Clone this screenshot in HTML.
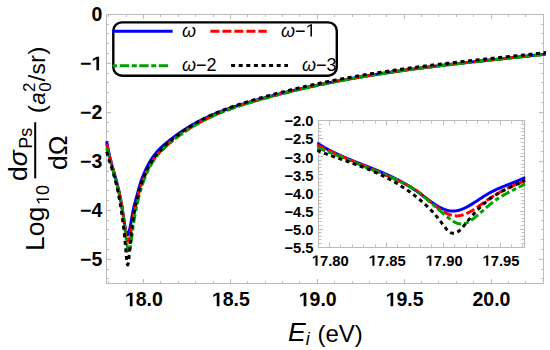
<!DOCTYPE html>
<html><head><meta charset="utf-8"><style>
html,body{margin:0;padding:0;background:#fff;width:550px;height:350px;overflow:hidden}
svg{display:block}
text{font-family:"Liberation Sans",sans-serif}
</style></head><body>
<svg width="550" height="350" viewBox="0 0 550 350">
<defs>
<clipPath id="cm"><rect x="105" y="0" width="441" height="290"/></clipPath>
<clipPath id="ci"><rect x="317.1" y="119.3" width="208.6" height="129.4"/></clipPath>
</defs>
<rect width="550" height="350" fill="#fff"/>

<rect x="106.5" y="14.5" width="437.0" height="269.0" fill="none" stroke="#bcbcbc" stroke-width="1"/>
<path d="M108.5,283.5v-2.5M108.5,14.5v2.5M126.5,283.5v-2.5M126.5,14.5v2.5M143.5,283.5v-4.5M143.5,14.5v4.5M160.5,283.5v-2.5M160.5,14.5v2.5M178.5,283.5v-2.5M178.5,14.5v2.5M195.5,283.5v-2.5M195.5,14.5v2.5M213.5,283.5v-2.5M213.5,14.5v2.5M230.5,283.5v-4.5M230.5,14.5v4.5M247.5,283.5v-2.5M247.5,14.5v2.5M265.5,283.5v-2.5M265.5,14.5v2.5M282.5,283.5v-2.5M282.5,14.5v2.5M299.5,283.5v-2.5M299.5,14.5v2.5M317.5,283.5v-4.5M317.5,14.5v4.5M334.5,283.5v-2.5M334.5,14.5v2.5M352.5,283.5v-2.5M352.5,14.5v2.5M369.5,283.5v-2.5M369.5,14.5v2.5M386.5,283.5v-2.5M386.5,14.5v2.5M404.5,283.5v-4.5M404.5,14.5v4.5M421.5,283.5v-2.5M421.5,14.5v2.5M438.5,283.5v-2.5M438.5,14.5v2.5M456.5,283.5v-2.5M456.5,14.5v2.5M473.5,283.5v-2.5M473.5,14.5v2.5M491.5,283.5v-4.5M491.5,14.5v4.5M508.5,283.5v-2.5M508.5,14.5v2.5M525.5,283.5v-2.5M525.5,14.5v2.5M543.5,283.5v-2.5M543.5,14.5v2.5M106.5,14.5h4.5M543.5,14.5h-4.5M106.5,24.5h2.5M543.5,24.5h-2.5M106.5,33.5h2.5M543.5,33.5h-2.5M106.5,43.5h2.5M543.5,43.5h-2.5M106.5,53.5h2.5M543.5,53.5h-2.5M106.5,63.5h4.5M543.5,63.5h-4.5M106.5,73.5h2.5M543.5,73.5h-2.5M106.5,82.5h2.5M543.5,82.5h-2.5M106.5,92.5h2.5M543.5,92.5h-2.5M106.5,102.5h2.5M543.5,102.5h-2.5M106.5,112.5h4.5M543.5,112.5h-4.5M106.5,122.5h2.5M543.5,122.5h-2.5M106.5,131.5h2.5M543.5,131.5h-2.5M106.5,141.5h2.5M543.5,141.5h-2.5M106.5,151.5h2.5M543.5,151.5h-2.5M106.5,161.5h4.5M543.5,161.5h-4.5M106.5,171.5h2.5M543.5,171.5h-2.5M106.5,180.5h2.5M543.5,180.5h-2.5M106.5,190.5h2.5M543.5,190.5h-2.5M106.5,200.5h2.5M543.5,200.5h-2.5M106.5,210.5h4.5M543.5,210.5h-4.5M106.5,220.5h2.5M543.5,220.5h-2.5M106.5,229.5h2.5M543.5,229.5h-2.5M106.5,239.5h2.5M543.5,239.5h-2.5M106.5,249.5h2.5M543.5,249.5h-2.5M106.5,259.5h4.5M543.5,259.5h-4.5M106.5,269.5h2.5M543.5,269.5h-2.5M106.5,278.5h2.5M543.5,278.5h-2.5" stroke="#bcbcbc" stroke-width="1" fill="none"/>
<g clip-path="url(#cm)" fill="none" stroke-width="3.0" stroke-linejoin="round">
<path d="M106.65,141.36 L107.14,144.10 L107.63,146.72 L108.12,149.20 L108.61,151.57 L109.10,153.82 L109.59,155.97 L110.08,158.03 L110.57,160.01 L111.06,161.92 L111.55,163.77 L112.04,165.57 L112.53,167.32 L113.02,169.05 L113.51,170.76 L114.00,172.45 L114.49,174.14 L114.98,175.85 L115.47,177.57 L115.95,179.32 L116.44,181.11 L116.93,182.96 L117.42,184.86 L117.91,186.83 L118.40,188.88 L118.89,191.01 L119.38,193.25 L119.87,195.60 L120.36,198.07 L120.85,200.66 L121.34,203.40 L121.83,206.29 L122.32,209.33 L122.81,212.52 L123.30,215.79 L123.79,219.05 L124.28,222.21 L124.77,225.19 L125.26,227.92 L125.74,230.30 L126.23,232.26 L126.72,233.72 L127.21,234.60 L127.70,234.66 L128.19,234.24 L128.68,233.12 L129.17,231.50 L129.66,229.45 L130.15,227.07 L130.64,224.44 L131.13,221.64 L131.62,218.78 L132.11,215.92 L132.60,213.17 L133.09,210.62 L133.58,208.28 L134.07,206.14 L134.56,204.16 L135.05,202.31 L135.53,200.54 L136.02,198.82 L136.51,197.13 L137.00,195.41 L137.49,193.63 L137.98,191.77 L138.47,189.78 L138.96,188.00 L139.45,186.29 L139.94,184.65 L140.43,183.07 L140.92,181.56 L141.41,180.11 L141.90,178.73 L142.39,177.44 L142.88,176.22 L143.37,175.04 L143.86,173.89 L144.35,172.75 L144.84,171.64 L145.32,170.56 L145.81,169.49 L146.30,168.46 L146.79,167.46 L147.28,166.49 L147.77,165.55 L148.26,164.63 L148.75,163.73 L149.24,162.86 L149.73,162.01 L150.22,161.19 L150.71,160.39 L151.20,159.61 L151.69,158.85 L152.18,158.11 L152.67,157.39 L153.16,156.69 L153.65,156.01 L154.14,155.35 L154.63,154.70 L155.12,154.07 L155.60,153.46 L156.09,152.86 L156.58,152.28 L157.07,151.72 L157.56,151.17 L158.05,150.64 L158.54,150.11 L159.03,149.60 L159.52,149.10 L160.01,148.61 L160.50,148.13 L160.99,147.66 L161.48,147.19 L161.97,146.73 L162.46,146.28 L162.95,145.83 L163.44,145.39 L163.93,144.96 L164.42,144.54 L164.91,144.12 L165.39,143.71 L165.88,143.30 L166.37,142.90 L166.86,142.50 L167.35,142.10 L167.84,141.70 L168.33,141.30 L168.82,140.91 L169.31,140.52 L169.80,140.13 L170.29,139.74 L170.78,139.36 L171.27,138.98 L171.76,138.60 L172.25,138.23 L172.74,137.85 L173.23,137.48 L173.72,137.12 L174.21,136.75 L174.70,136.39 L175.18,136.03 L175.67,135.67 L176.16,135.31 L176.65,134.96 L177.14,134.61 L177.63,134.26 L178.12,133.92 L178.61,133.57 L179.10,133.23 L179.59,132.89 L180.08,132.56 L180.57,132.22 L181.06,131.89 L181.55,131.56 L182.04,131.24 L182.53,130.92 L183.02,130.60 L183.51,130.28 L184.00,129.96 L184.49,129.64 L184.97,129.33 L185.46,129.02 L185.95,128.71 L186.44,128.40 L186.93,128.10 L187.42,127.79 L187.91,127.49 L188.40,127.19 L188.89,126.90 L189.38,126.60 L189.87,126.31 L190.36,126.02 L190.85,125.74 L191.34,125.45 L191.83,125.17 L192.32,124.89 L192.81,124.61 L193.30,124.33 L193.79,124.05 L194.28,123.78 L194.76,123.51 L195.25,123.24 L195.74,122.97 L196.23,122.70 L196.72,122.44 L197.21,122.18 L197.70,121.92 L198.19,121.66 L198.68,121.40 L199.17,121.15 L199.66,120.90 L200.15,120.65 L200.64,120.40 L201.13,120.15 L201.62,119.91 L202.11,119.66 L202.60,119.42 L203.09,119.18 L203.58,118.94 L204.07,118.70 L204.55,118.47 L205.04,118.23 L205.53,118.00 L206.02,117.77 L206.51,117.54 L207.00,117.31 L207.49,117.09 L207.98,116.86 L208.47,116.64 L208.96,116.42 L209.45,116.20 L209.94,115.98 L210.43,115.77 L210.92,115.56 L211.41,115.34 L211.90,115.13 L212.39,114.92 L212.88,114.71 L213.37,114.50 L213.86,114.30 L214.34,114.09 L214.83,113.89 L215.32,113.69 L215.81,113.49 L216.30,113.29 L216.79,113.09 L217.28,112.89 L217.77,112.70 L218.26,112.50 L218.75,112.31 L219.24,112.12 L219.73,111.93 L220.22,111.74 L220.71,111.55 L221.20,111.36 L221.69,111.17 L222.18,110.99 L222.67,110.81 L223.16,110.62 L223.65,110.44 L224.13,110.26 L224.62,110.08 L225.11,109.90 L225.60,109.73 L226.09,109.55 L226.58,109.38 L227.07,109.20 L227.56,109.03 L228.05,108.86 L228.54,108.69 L229.03,108.52 L229.52,108.35 L230.01,108.18 L230.50,108.02 L230.99,107.85 L231.48,107.69 L231.97,107.52 L232.46,107.36 L232.95,107.19 L233.44,107.03 L233.92,106.87 L234.41,106.71 L234.90,106.55 L235.39,106.39 L235.88,106.23 L236.37,106.07 L236.86,105.92 L237.35,105.76 L237.84,105.61 L238.33,105.45 L238.82,105.30 L239.31,105.15 L239.80,104.99 L240.29,104.84 L240.78,104.69 L241.27,104.54 L241.76,104.39 L242.25,104.24 L242.74,104.09 L243.23,103.95 L243.71,103.80 L244.20,103.65 L244.69,103.50 L245.18,103.36 L245.67,103.21 L246.16,103.06 L246.65,102.92 L247.14,102.77 L247.63,102.63 L248.12,102.48 L248.61,102.34 L249.10,102.19 L249.59,102.05 L250.08,101.91 L250.57,101.77 L251.06,101.62 L251.55,101.48 L252.04,101.34 L252.53,101.20 L253.02,101.06 L253.50,100.92 L253.99,100.78 L254.48,100.64 L254.97,100.50 L255.46,100.36 L255.95,100.22 L256.44,100.08 L256.93,99.94 L257.42,99.80 L257.91,99.67 L258.40,99.53 L258.89,99.39 L259.38,99.26 L259.87,99.12 L260.36,98.98 L260.85,98.85 L261.34,98.71 L261.83,98.58 L262.32,98.44 L262.81,98.31 L263.29,98.17 L263.78,98.04 L264.27,97.91 L264.76,97.77 L265.25,97.64 L265.74,97.51 L266.23,97.37 L266.72,97.24 L267.21,97.11 L267.70,96.98 L268.19,96.85 L268.68,96.72 L269.17,96.59 L269.66,96.45 L270.15,96.32 L270.64,96.19 L271.13,96.06 L271.62,95.94 L272.11,95.81 L272.60,95.68 L273.08,95.55 L273.57,95.42 L274.06,95.29 L274.55,95.17 L275.04,95.04 L275.53,94.91 L276.02,94.78 L276.51,94.66 L277.00,94.53 L277.49,94.41 L277.98,94.28 L278.47,94.15 L278.96,94.03 L279.45,93.91 L279.94,93.78 L280.43,93.66 L280.92,93.53 L281.41,93.41 L281.90,93.29 L282.39,93.16 L282.87,93.04 L283.36,92.92 L283.85,92.80 L284.34,92.68 L284.83,92.55 L285.32,92.43 L285.81,92.31 L286.30,92.19 L286.79,92.07 L287.28,91.95 L287.77,91.83 L288.26,91.71 L288.75,91.59 L289.24,91.47 L289.73,91.35 L290.22,91.24 L290.71,91.12 L291.20,91.00 L291.69,90.88 L292.18,90.77 L292.66,90.65 L293.15,90.53 L293.64,90.42 L294.13,90.30 L294.62,90.18 L295.11,90.07 L295.60,89.95 L296.09,89.84 L296.58,89.72 L297.07,89.61 L297.56,89.49 L298.05,89.38 L298.54,89.27 L299.03,89.15 L299.52,89.04 L300.01,88.93 L300.50,88.82 L300.99,88.70 L301.48,88.59 L301.97,88.48 L302.45,88.37 L302.94,88.26 L303.43,88.15 L303.92,88.04 L304.41,87.92 L304.90,87.81 L305.39,87.70 L305.88,87.59 L306.37,87.49 L306.86,87.38 L307.35,87.27 L307.84,87.16 L308.33,87.05 L308.82,86.94 L309.31,86.83 L309.80,86.73 L310.29,86.62 L310.78,86.51 L311.27,86.41 L311.76,86.30 L312.24,86.19 L312.73,86.09 L313.22,85.98 L313.71,85.88 L314.20,85.77 L314.69,85.67 L315.18,85.56 L315.67,85.46 L316.16,85.35 L316.65,85.25 L317.14,85.15 L317.63,85.04 L318.12,84.94 L318.61,84.84 L319.10,84.74 L319.59,84.64 L320.08,84.53 L320.57,84.43 L321.06,84.33 L321.55,84.23 L322.03,84.13 L322.52,84.03 L323.01,83.93 L323.50,83.83 L323.99,83.73 L324.48,83.63 L324.97,83.53 L325.46,83.43 L325.95,83.33 L326.44,83.23 L326.93,83.13 L327.42,83.03 L327.91,82.93 L328.40,82.84 L328.89,82.74 L329.38,82.64 L329.87,82.54 L330.36,82.45 L330.85,82.35 L331.34,82.25 L331.82,82.16 L332.31,82.06 L332.80,81.96 L333.29,81.87 L333.78,81.77 L334.27,81.68 L334.76,81.58 L335.25,81.49 L335.74,81.40 L336.23,81.30 L336.72,81.21 L337.21,81.11 L337.70,81.02 L338.19,80.93 L338.68,80.84 L339.17,80.74 L339.66,80.65 L340.15,80.56 L340.64,80.47 L341.13,80.37 L341.61,80.28 L342.10,80.19 L342.59,80.10 L343.08,80.01 L343.57,79.92 L344.06,79.83 L344.55,79.74 L345.04,79.65 L345.53,79.56 L346.02,79.47 L346.51,79.38 L347.00,79.29 L347.49,79.20 L347.98,79.11 L348.47,79.03 L348.96,78.94 L349.45,78.85 L349.94,78.76 L350.43,78.67 L350.92,78.59 L351.41,78.50 L351.89,78.41 L352.38,78.33 L352.87,78.24 L353.36,78.15 L353.85,78.07 L354.34,77.98 L354.83,77.90 L355.32,77.81 L355.81,77.72 L356.30,77.64 L356.79,77.55 L357.28,77.47 L357.77,77.39 L358.26,77.30 L358.75,77.22 L359.24,77.13 L359.73,77.05 L360.22,76.97 L360.71,76.88 L361.20,76.80 L361.68,76.72 L362.17,76.63 L362.66,76.55 L363.15,76.47 L363.64,76.39 L364.13,76.31 L364.62,76.22 L365.11,76.14 L365.60,76.06 L366.09,75.98 L366.58,75.90 L367.07,75.82 L367.56,75.74 L368.05,75.66 L368.54,75.58 L369.03,75.50 L369.52,75.42 L370.01,75.34 L370.50,75.26 L370.99,75.18 L371.47,75.10 L371.96,75.02 L372.45,74.94 L372.94,74.87 L373.43,74.79 L373.92,74.71 L374.41,74.63 L374.90,74.55 L375.39,74.48 L375.88,74.40 L376.37,74.32 L376.86,74.25 L377.35,74.17 L377.84,74.09 L378.33,74.02 L378.82,73.94 L379.31,73.87 L379.80,73.79 L380.29,73.71 L380.78,73.64 L381.26,73.56 L381.75,73.49 L382.24,73.41 L382.73,73.34 L383.22,73.26 L383.71,73.19 L384.20,73.12 L384.69,73.04 L385.18,72.97 L385.67,72.89 L386.16,72.82 L386.65,72.75 L387.14,72.68 L387.63,72.60 L388.12,72.53 L388.61,72.46 L389.10,72.38 L389.59,72.31 L390.08,72.24 L390.57,72.17 L391.05,72.10 L391.54,72.02 L392.03,71.95 L392.52,71.88 L393.01,71.81 L393.50,71.74 L393.99,71.67 L394.48,71.60 L394.97,71.53 L395.46,71.46 L395.95,71.39 L396.44,71.32 L396.93,71.25 L397.42,71.18 L397.91,71.11 L398.40,71.04 L398.89,70.97 L399.38,70.90 L399.87,70.83 L400.36,70.76 L400.84,70.69 L401.33,70.62 L401.82,70.55 L402.31,70.49 L402.80,70.42 L403.29,70.35 L403.78,70.28 L404.27,70.21 L404.76,70.15 L405.25,70.08 L405.74,70.01 L406.23,69.94 L406.72,69.88 L407.21,69.81 L407.70,69.74 L408.19,69.68 L408.68,69.61 L409.17,69.54 L409.66,69.48 L410.15,69.41 L410.63,69.35 L411.12,69.28 L411.61,69.22 L412.10,69.15 L412.59,69.08 L413.08,69.02 L413.57,68.95 L414.06,68.89 L414.55,68.82 L415.04,68.76 L415.53,68.70 L416.02,68.63 L416.51,68.57 L417.00,68.50 L417.49,68.44 L417.98,68.38 L418.47,68.31 L418.96,68.25 L419.45,68.18 L419.94,68.12 L420.42,68.06 L420.91,67.99 L421.40,67.93 L421.89,67.87 L422.38,67.81 L422.87,67.74 L423.36,67.68 L423.85,67.62 L424.34,67.56 L424.83,67.49 L425.32,67.43 L425.81,67.37 L426.30,67.31 L426.79,67.25 L427.28,67.19 L427.77,67.12 L428.26,67.06 L428.75,67.00 L429.24,66.94 L429.73,66.88 L430.21,66.82 L430.70,66.76 L431.19,66.70 L431.68,66.64 L432.17,66.58 L432.66,66.52 L433.15,66.46 L433.64,66.40 L434.13,66.34 L434.62,66.28 L435.11,66.22 L435.60,66.16 L436.09,66.10 L436.58,66.04 L437.07,65.98 L437.56,65.92 L438.05,65.86 L438.54,65.80 L439.03,65.74 L439.52,65.68 L440.00,65.62 L440.49,65.56 L440.98,65.51 L441.47,65.45 L441.96,65.39 L442.45,65.33 L442.94,65.27 L443.43,65.21 L443.92,65.16 L444.41,65.10 L444.90,65.04 L445.39,64.98 L445.88,64.92 L446.37,64.87 L446.86,64.81 L447.35,64.75 L447.84,64.69 L448.33,64.64 L448.82,64.58 L449.31,64.52 L449.79,64.46 L450.28,64.41 L450.77,64.35 L451.26,64.29 L451.75,64.24 L452.24,64.18 L452.73,64.12 L453.22,64.07 L453.71,64.01 L454.20,63.95 L454.69,63.90 L455.18,63.84 L455.67,63.79 L456.16,63.73 L456.65,63.67 L457.14,63.62 L457.63,63.56 L458.12,63.51 L458.61,63.45 L459.10,63.40 L459.58,63.34 L460.07,63.29 L460.56,63.23 L461.05,63.18 L461.54,63.12 L462.03,63.07 L462.52,63.01 L463.01,62.96 L463.50,62.90 L463.99,62.85 L464.48,62.79 L464.97,62.74 L465.46,62.68 L465.95,62.63 L466.44,62.57 L466.93,62.52 L467.42,62.46 L467.91,62.41 L468.40,62.35 L468.89,62.30 L469.37,62.25 L469.86,62.19 L470.35,62.14 L470.84,62.08 L471.33,62.03 L471.82,61.98 L472.31,61.92 L472.80,61.87 L473.29,61.81 L473.78,61.76 L474.27,61.71 L474.76,61.65 L475.25,61.60 L475.74,61.55 L476.23,61.49 L476.72,61.44 L477.21,61.39 L477.70,61.33 L478.19,61.28 L478.68,61.23 L479.16,61.17 L479.65,61.12 L480.14,61.07 L480.63,61.01 L481.12,60.96 L481.61,60.91 L482.10,60.86 L482.59,60.80 L483.08,60.75 L483.57,60.70 L484.06,60.64 L484.55,60.59 L485.04,60.54 L485.53,60.49 L486.02,60.43 L486.51,60.38 L487.00,60.33 L487.49,60.28 L487.98,60.22 L488.47,60.17 L488.95,60.12 L489.44,60.07 L489.93,60.01 L490.42,59.96 L490.91,59.91 L491.40,59.86 L491.89,59.80 L492.38,59.75 L492.87,59.70 L493.36,59.65 L493.85,59.59 L494.34,59.54 L494.83,59.49 L495.32,59.44 L495.81,59.39 L496.30,59.33 L496.79,59.28 L497.28,59.23 L497.77,59.18 L498.26,59.13 L498.74,59.07 L499.23,59.02 L499.72,58.97 L500.21,58.92 L500.70,58.87 L501.19,58.81 L501.68,58.76 L502.17,58.71 L502.66,58.66 L503.15,58.61 L503.64,58.56 L504.13,58.50 L504.62,58.45 L505.11,58.40 L505.60,58.35 L506.09,58.30 L506.58,58.24 L507.07,58.19 L507.56,58.14 L508.05,58.09 L508.53,58.04 L509.02,57.99 L509.51,57.93 L510.00,57.88 L510.49,57.83 L510.98,57.78 L511.47,57.73 L511.96,57.67 L512.45,57.62 L512.94,57.57 L513.43,57.52 L513.92,57.47 L514.41,57.42 L514.90,57.36 L515.39,57.31 L515.88,57.26 L516.37,57.21 L516.86,57.16 L517.35,57.11 L517.84,57.05 L518.32,57.00 L518.81,56.95 L519.30,56.90 L519.79,56.85 L520.28,56.79 L520.77,56.74 L521.26,56.69 L521.75,56.64 L522.24,56.59 L522.73,56.54 L523.22,56.48 L523.71,56.43 L524.20,56.38 L524.69,56.33 L525.18,56.27 L525.67,56.22 L526.16,56.17 L526.65,56.12 L527.14,56.07 L527.63,56.01 L528.11,55.96 L528.60,55.91 L529.09,55.86 L529.58,55.80 L530.07,55.75 L530.56,55.70 L531.05,55.65 L531.54,55.60 L532.03,55.54 L532.52,55.49 L533.01,55.44 L533.50,55.39 L533.99,55.33 L534.48,55.28 L534.97,55.23 L535.46,55.18 L535.95,55.12 L536.44,55.07 L536.93,55.02 L537.42,54.96 L537.90,54.91 L538.39,54.86 L538.88,54.81 L539.37,54.75 L539.86,54.70 L540.35,54.65 L540.84,54.59 L541.33,54.54 L541.82,54.49 L542.31,54.44 L542.80,54.38 L543.29,54.33 L543.78,54.28 L544.27,54.22 L544.76,54.17 L545.25,54.12 L545.74,54.06 L546.23,54.01 L546.72,53.96" stroke="#0000ff"/>
<path d="M106.65,144.22 L107.14,146.43 L107.63,148.58 L108.12,150.67 L108.61,152.71 L109.10,154.70 L109.59,156.64 L110.08,158.55 L110.57,160.42 L111.06,162.27 L111.55,164.09 L112.04,165.90 L112.53,167.70 L113.02,169.49 L113.51,171.28 L114.00,173.07 L114.49,174.87 L114.98,176.69 L115.47,178.53 L115.95,180.40 L116.44,182.29 L116.93,184.20 L117.42,186.14 L117.91,188.10 L118.40,190.07 L118.89,192.06 L119.38,194.06 L119.87,196.10 L120.36,198.24 L120.85,200.52 L121.34,203.00 L121.83,205.73 L122.32,208.75 L122.81,212.07 L123.30,215.62 L123.79,219.30 L124.28,223.00 L124.77,226.62 L125.26,230.07 L125.74,233.23 L126.23,236.02 L126.72,238.33 L127.21,240.06 L127.70,241.14 L128.19,241.26 L128.68,240.90 L129.17,239.76 L129.66,238.07 L130.15,235.92 L130.64,233.39 L131.13,230.57 L131.62,227.56 L132.11,224.45 L132.60,221.33 L133.09,218.29 L133.58,215.41 L134.07,212.70 L134.56,210.16 L135.05,207.76 L135.53,205.50 L136.02,203.35 L136.51,201.31 L137.00,199.36 L137.49,197.49 L137.98,195.69 L138.47,193.93 L138.96,192.24 L139.45,190.57 L139.94,188.93 L140.43,187.33 L140.92,185.78 L141.41,184.30 L141.90,182.90 L142.39,181.60 L142.88,180.36 L143.37,179.17 L143.86,178.00 L144.35,176.84 L144.84,175.71 L145.32,174.60 L145.81,173.52 L146.30,172.47 L146.79,171.44 L147.28,170.45 L147.77,169.48 L148.26,168.54 L148.75,167.61 L149.24,166.72 L149.73,165.84 L150.22,164.99 L150.71,164.16 L151.20,163.36 L151.69,162.57 L152.18,161.80 L152.67,161.05 L153.16,160.33 L153.65,159.62 L154.14,158.93 L154.63,158.25 L155.12,157.59 L155.60,156.95 L156.09,156.33 L156.58,155.72 L157.07,155.12 L157.56,154.55 L158.05,153.98 L158.54,153.43 L159.03,152.89 L159.52,152.36 L160.01,151.84 L160.50,151.33 L160.99,150.83 L161.48,150.34 L161.97,149.85 L162.46,149.37 L162.95,148.89 L163.44,148.42 L163.93,147.96 L164.42,147.51 L164.91,147.07 L165.39,146.63 L165.88,146.19 L166.37,145.76 L166.86,145.33 L167.35,144.91 L167.84,144.49 L168.33,144.06 L168.82,143.64 L169.31,143.23 L169.80,142.81 L170.29,142.40 L170.78,141.99 L171.27,141.59 L171.76,141.18 L172.25,140.78 L172.74,140.38 L173.23,139.99 L173.72,139.60 L174.21,139.21 L174.70,138.82 L175.18,138.44 L175.67,138.06 L176.16,137.68 L176.65,137.30 L177.14,136.93 L177.63,136.56 L178.12,136.19 L178.61,135.82 L179.10,135.46 L179.59,135.10 L180.08,134.74 L180.57,134.38 L181.06,134.03 L181.55,133.68 L182.04,133.34 L182.53,132.99 L183.02,132.65 L183.51,132.31 L184.00,131.98 L184.49,131.64 L184.97,131.31 L185.46,130.98 L185.95,130.65 L186.44,130.32 L186.93,130.00 L187.42,129.68 L187.91,129.36 L188.40,129.04 L188.89,128.72 L189.38,128.41 L189.87,128.10 L190.36,127.80 L190.85,127.49 L191.34,127.19 L191.83,126.89 L192.32,126.59 L192.81,126.29 L193.30,126.00 L193.79,125.70 L194.28,125.41 L194.76,125.13 L195.25,124.84 L195.74,124.55 L196.23,124.27 L196.72,123.99 L197.21,123.72 L197.70,123.44 L198.19,123.17 L198.68,122.90 L199.17,122.63 L199.66,122.36 L200.15,122.10 L200.64,121.84 L201.13,121.57 L201.62,121.31 L202.11,121.06 L202.60,120.80 L203.09,120.55 L203.58,120.29 L204.07,120.04 L204.55,119.79 L205.04,119.54 L205.53,119.30 L206.02,119.05 L206.51,118.81 L207.00,118.57 L207.49,118.33 L207.98,118.10 L208.47,117.86 L208.96,117.63 L209.45,117.40 L209.94,117.17 L210.43,116.94 L210.92,116.72 L211.41,116.49 L211.90,116.27 L212.39,116.05 L212.88,115.83 L213.37,115.61 L213.86,115.39 L214.34,115.18 L214.83,114.96 L215.32,114.75 L215.81,114.54 L216.30,114.33 L216.79,114.12 L217.28,113.91 L217.77,113.71 L218.26,113.50 L218.75,113.30 L219.24,113.10 L219.73,112.90 L220.22,112.70 L220.71,112.50 L221.20,112.30 L221.69,112.11 L222.18,111.91 L222.67,111.72 L223.16,111.53 L223.65,111.34 L224.13,111.15 L224.62,110.96 L225.11,110.77 L225.60,110.59 L226.09,110.40 L226.58,110.22 L227.07,110.04 L227.56,109.86 L228.05,109.68 L228.54,109.50 L229.03,109.32 L229.52,109.14 L230.01,108.97 L230.50,108.79 L230.99,108.62 L231.48,108.45 L231.97,108.27 L232.46,108.10 L232.95,107.93 L233.44,107.76 L233.92,107.59 L234.41,107.43 L234.90,107.26 L235.39,107.09 L235.88,106.93 L236.37,106.76 L236.86,106.60 L237.35,106.44 L237.84,106.28 L238.33,106.12 L238.82,105.96 L239.31,105.80 L239.80,105.64 L240.29,105.48 L240.78,105.32 L241.27,105.16 L241.76,105.01 L242.25,104.85 L242.74,104.70 L243.23,104.54 L243.71,104.39 L244.20,104.24 L244.69,104.08 L245.18,103.93 L245.67,103.78 L246.16,103.63 L246.65,103.48 L247.14,103.33 L247.63,103.18 L248.12,103.02 L248.61,102.87 L249.10,102.73 L249.59,102.58 L250.08,102.43 L250.57,102.28 L251.06,102.13 L251.55,101.99 L252.04,101.84 L252.53,101.69 L253.02,101.55 L253.50,101.40 L253.99,101.26 L254.48,101.11 L254.97,100.97 L255.46,100.82 L255.95,100.68 L256.44,100.54 L256.93,100.39 L257.42,100.25 L257.91,100.11 L258.40,99.97 L258.89,99.83 L259.38,99.69 L259.87,99.54 L260.36,99.40 L260.85,99.26 L261.34,99.12 L261.83,98.99 L262.32,98.85 L262.81,98.71 L263.29,98.57 L263.78,98.43 L264.27,98.29 L264.76,98.16 L265.25,98.02 L265.74,97.88 L266.23,97.75 L266.72,97.61 L267.21,97.48 L267.70,97.34 L268.19,97.21 L268.68,97.07 L269.17,96.94 L269.66,96.80 L270.15,96.67 L270.64,96.54 L271.13,96.40 L271.62,96.27 L272.11,96.14 L272.60,96.00 L273.08,95.87 L273.57,95.74 L274.06,95.61 L274.55,95.48 L275.04,95.35 L275.53,95.22 L276.02,95.09 L276.51,94.96 L277.00,94.83 L277.49,94.70 L277.98,94.57 L278.47,94.44 L278.96,94.32 L279.45,94.19 L279.94,94.06 L280.43,93.94 L280.92,93.81 L281.41,93.68 L281.90,93.56 L282.39,93.43 L282.87,93.31 L283.36,93.18 L283.85,93.06 L284.34,92.93 L284.83,92.81 L285.32,92.68 L285.81,92.56 L286.30,92.44 L286.79,92.32 L287.28,92.19 L287.77,92.07 L288.26,91.95 L288.75,91.83 L289.24,91.71 L289.73,91.58 L290.22,91.46 L290.71,91.34 L291.20,91.22 L291.69,91.10 L292.18,90.98 L292.66,90.87 L293.15,90.75 L293.64,90.63 L294.13,90.51 L294.62,90.39 L295.11,90.27 L295.60,90.16 L296.09,90.04 L296.58,89.92 L297.07,89.81 L297.56,89.69 L298.05,89.57 L298.54,89.46 L299.03,89.34 L299.52,89.23 L300.01,89.11 L300.50,89.00 L300.99,88.89 L301.48,88.77 L301.97,88.66 L302.45,88.55 L302.94,88.43 L303.43,88.32 L303.92,88.21 L304.41,88.09 L304.90,87.98 L305.39,87.87 L305.88,87.76 L306.37,87.65 L306.86,87.54 L307.35,87.43 L307.84,87.32 L308.33,87.21 L308.82,87.10 L309.31,86.99 L309.80,86.88 L310.29,86.77 L310.78,86.66 L311.27,86.55 L311.76,86.45 L312.24,86.34 L312.73,86.23 L313.22,86.12 L313.71,86.02 L314.20,85.91 L314.69,85.80 L315.18,85.70 L315.67,85.59 L316.16,85.49 L316.65,85.38 L317.14,85.28 L317.63,85.17 L318.12,85.07 L318.61,84.97 L319.10,84.86 L319.59,84.76 L320.08,84.66 L320.57,84.55 L321.06,84.45 L321.55,84.35 L322.03,84.25 L322.52,84.14 L323.01,84.04 L323.50,83.94 L323.99,83.84 L324.48,83.74 L324.97,83.64 L325.46,83.54 L325.95,83.44 L326.44,83.34 L326.93,83.24 L327.42,83.14 L327.91,83.04 L328.40,82.94 L328.89,82.84 L329.38,82.74 L329.87,82.64 L330.36,82.55 L330.85,82.45 L331.34,82.35 L331.82,82.25 L332.31,82.16 L332.80,82.06 L333.29,81.96 L333.78,81.87 L334.27,81.77 L334.76,81.68 L335.25,81.58 L335.74,81.48 L336.23,81.39 L336.72,81.30 L337.21,81.20 L337.70,81.11 L338.19,81.01 L338.68,80.92 L339.17,80.83 L339.66,80.73 L340.15,80.64 L340.64,80.55 L341.13,80.45 L341.61,80.36 L342.10,80.27 L342.59,80.18 L343.08,80.09 L343.57,80.00 L344.06,79.90 L344.55,79.81 L345.04,79.72 L345.53,79.63 L346.02,79.54 L346.51,79.45 L347.00,79.36 L347.49,79.27 L347.98,79.18 L348.47,79.09 L348.96,79.01 L349.45,78.92 L349.94,78.83 L350.43,78.74 L350.92,78.65 L351.41,78.56 L351.89,78.48 L352.38,78.39 L352.87,78.30 L353.36,78.22 L353.85,78.13 L354.34,78.04 L354.83,77.96 L355.32,77.87 L355.81,77.78 L356.30,77.70 L356.79,77.61 L357.28,77.53 L357.77,77.44 L358.26,77.36 L358.75,77.27 L359.24,77.19 L359.73,77.10 L360.22,77.02 L360.71,76.94 L361.20,76.85 L361.68,76.77 L362.17,76.69 L362.66,76.60 L363.15,76.52 L363.64,76.44 L364.13,76.36 L364.62,76.27 L365.11,76.19 L365.60,76.11 L366.09,76.03 L366.58,75.95 L367.07,75.87 L367.56,75.78 L368.05,75.70 L368.54,75.62 L369.03,75.54 L369.52,75.46 L370.01,75.38 L370.50,75.30 L370.99,75.22 L371.47,75.14 L371.96,75.07 L372.45,74.99 L372.94,74.91 L373.43,74.83 L373.92,74.75 L374.41,74.67 L374.90,74.59 L375.39,74.52 L375.88,74.44 L376.37,74.36 L376.86,74.28 L377.35,74.21 L377.84,74.13 L378.33,74.05 L378.82,73.98 L379.31,73.90 L379.80,73.83 L380.29,73.75 L380.78,73.67 L381.26,73.60 L381.75,73.52 L382.24,73.45 L382.73,73.37 L383.22,73.30 L383.71,73.22 L384.20,73.15 L384.69,73.07 L385.18,73.00 L385.67,72.93 L386.16,72.85 L386.65,72.78 L387.14,72.71 L387.63,72.63 L388.12,72.56 L388.61,72.49 L389.10,72.41 L389.59,72.34 L390.08,72.27 L390.57,72.20 L391.05,72.12 L391.54,72.05 L392.03,71.98 L392.52,71.91 L393.01,71.84 L393.50,71.77 L393.99,71.70 L394.48,71.62 L394.97,71.55 L395.46,71.48 L395.95,71.41 L396.44,71.34 L396.93,71.27 L397.42,71.20 L397.91,71.13 L398.40,71.06 L398.89,70.99 L399.38,70.92 L399.87,70.85 L400.36,70.78 L400.84,70.72 L401.33,70.65 L401.82,70.58 L402.31,70.51 L402.80,70.44 L403.29,70.37 L403.78,70.30 L404.27,70.24 L404.76,70.17 L405.25,70.10 L405.74,70.03 L406.23,69.97 L406.72,69.90 L407.21,69.83 L407.70,69.76 L408.19,69.70 L408.68,69.63 L409.17,69.56 L409.66,69.50 L410.15,69.43 L410.63,69.37 L411.12,69.30 L411.61,69.23 L412.10,69.17 L412.59,69.10 L413.08,69.04 L413.57,68.97 L414.06,68.91 L414.55,68.84 L415.04,68.78 L415.53,68.71 L416.02,68.65 L416.51,68.58 L417.00,68.52 L417.49,68.46 L417.98,68.39 L418.47,68.33 L418.96,68.26 L419.45,68.20 L419.94,68.14 L420.42,68.07 L420.91,68.01 L421.40,67.95 L421.89,67.88 L422.38,67.82 L422.87,67.76 L423.36,67.70 L423.85,67.63 L424.34,67.57 L424.83,67.51 L425.32,67.45 L425.81,67.38 L426.30,67.32 L426.79,67.26 L427.28,67.20 L427.77,67.14 L428.26,67.08 L428.75,67.01 L429.24,66.95 L429.73,66.89 L430.21,66.83 L430.70,66.77 L431.19,66.71 L431.68,66.65 L432.17,66.59 L432.66,66.53 L433.15,66.47 L433.64,66.41 L434.13,66.35 L434.62,66.29 L435.11,66.23 L435.60,66.17 L436.09,66.11 L436.58,66.05 L437.07,65.99 L437.56,65.93 L438.05,65.87 L438.54,65.81 L439.03,65.75 L439.52,65.69 L440.00,65.63 L440.49,65.58 L440.98,65.52 L441.47,65.46 L441.96,65.40 L442.45,65.34 L442.94,65.28 L443.43,65.22 L443.92,65.17 L444.41,65.11 L444.90,65.05 L445.39,64.99 L445.88,64.93 L446.37,64.88 L446.86,64.82 L447.35,64.76 L447.84,64.70 L448.33,64.65 L448.82,64.59 L449.31,64.53 L449.79,64.47 L450.28,64.42 L450.77,64.36 L451.26,64.30 L451.75,64.25 L452.24,64.19 L452.73,64.13 L453.22,64.08 L453.71,64.02 L454.20,63.96 L454.69,63.91 L455.18,63.85 L455.67,63.79 L456.16,63.74 L456.65,63.68 L457.14,63.63 L457.63,63.57 L458.12,63.52 L458.61,63.46 L459.10,63.40 L459.58,63.35 L460.07,63.29 L460.56,63.24 L461.05,63.18 L461.54,63.13 L462.03,63.07 L462.52,63.02 L463.01,62.96 L463.50,62.91 L463.99,62.85 L464.48,62.80 L464.97,62.74 L465.46,62.69 L465.95,62.63 L466.44,62.58 L466.93,62.52 L467.42,62.47 L467.91,62.41 L468.40,62.36 L468.89,62.31 L469.37,62.25 L469.86,62.20 L470.35,62.14 L470.84,62.09 L471.33,62.03 L471.82,61.98 L472.31,61.93 L472.80,61.87 L473.29,61.82 L473.78,61.77 L474.27,61.71 L474.76,61.66 L475.25,61.60 L475.74,61.55 L476.23,61.50 L476.72,61.44 L477.21,61.39 L477.70,61.34 L478.19,61.28 L478.68,61.23 L479.16,61.18 L479.65,61.13 L480.14,61.07 L480.63,61.02 L481.12,60.97 L481.61,60.91 L482.10,60.86 L482.59,60.81 L483.08,60.75 L483.57,60.70 L484.06,60.65 L484.55,60.60 L485.04,60.54 L485.53,60.49 L486.02,60.44 L486.51,60.39 L487.00,60.33 L487.49,60.28 L487.98,60.23 L488.47,60.17 L488.95,60.12 L489.44,60.07 L489.93,60.02 L490.42,59.96 L490.91,59.91 L491.40,59.86 L491.89,59.81 L492.38,59.75 L492.87,59.70 L493.36,59.65 L493.85,59.60 L494.34,59.55 L494.83,59.49 L495.32,59.44 L495.81,59.39 L496.30,59.34 L496.79,59.28 L497.28,59.23 L497.77,59.18 L498.26,59.13 L498.74,59.08 L499.23,59.02 L499.72,58.97 L500.21,58.92 L500.70,58.87 L501.19,58.82 L501.68,58.77 L502.17,58.71 L502.66,58.66 L503.15,58.61 L503.64,58.56 L504.13,58.51 L504.62,58.45 L505.11,58.40 L505.60,58.35 L506.09,58.30 L506.58,58.25 L507.07,58.20 L507.56,58.14 L508.05,58.09 L508.53,58.04 L509.02,57.99 L509.51,57.94 L510.00,57.88 L510.49,57.83 L510.98,57.78 L511.47,57.73 L511.96,57.68 L512.45,57.63 L512.94,57.57 L513.43,57.52 L513.92,57.47 L514.41,57.42 L514.90,57.37 L515.39,57.31 L515.88,57.26 L516.37,57.21 L516.86,57.16 L517.35,57.11 L517.84,57.06 L518.32,57.00 L518.81,56.95 L519.30,56.90 L519.79,56.85 L520.28,56.80 L520.77,56.74 L521.26,56.69 L521.75,56.64 L522.24,56.59 L522.73,56.54 L523.22,56.49 L523.71,56.43 L524.20,56.38 L524.69,56.33 L525.18,56.28 L525.67,56.22 L526.16,56.17 L526.65,56.12 L527.14,56.07 L527.63,56.02 L528.11,55.96 L528.60,55.91 L529.09,55.86 L529.58,55.81 L530.07,55.75 L530.56,55.70 L531.05,55.65 L531.54,55.60 L532.03,55.54 L532.52,55.49 L533.01,55.44 L533.50,55.39 L533.99,55.33 L534.48,55.28 L534.97,55.23 L535.46,55.18 L535.95,55.12 L536.44,55.07 L536.93,55.02 L537.42,54.97 L537.90,54.91 L538.39,54.86 L538.88,54.81 L539.37,54.75 L539.86,54.70 L540.35,54.65 L540.84,54.60 L541.33,54.54 L541.82,54.49 L542.31,54.44 L542.80,54.38 L543.29,54.33 L543.78,54.28 L544.27,54.22 L544.76,54.17 L545.25,54.12 L545.74,54.06 L546.23,54.01 L546.72,53.96" stroke="#ff0000" stroke-dasharray="9 3"/>
<path d="M106.65,148.15 L107.14,149.72 L107.63,151.32 L108.12,152.95 L108.61,154.62 L109.10,156.32 L109.59,158.05 L110.08,159.80 L110.57,161.56 L111.06,163.34 L111.55,165.14 L112.04,166.93 L112.53,168.74 L113.02,170.54 L113.51,172.33 L114.00,174.12 L114.49,175.90 L114.98,177.66 L115.47,179.40 L115.95,181.12 L116.44,182.82 L116.93,184.53 L117.42,186.27 L117.91,188.05 L118.40,189.90 L118.89,191.84 L119.38,193.88 L119.87,196.05 L120.36,198.36 L120.85,200.85 L121.34,203.52 L121.83,206.39 L122.32,209.50 L122.81,212.83 L123.30,216.36 L123.79,220.03 L124.28,223.81 L124.77,227.65 L125.26,231.49 L125.74,235.31 L126.23,239.04 L126.72,242.65 L127.21,246.05 L127.70,248.96 L128.19,251.14 L128.68,252.16 L129.17,252.03 L129.66,250.78 L130.15,248.51 L130.64,245.54 L131.13,242.07 L131.62,238.32 L132.11,234.49 L132.60,230.68 L133.09,226.98 L133.58,223.46 L134.07,220.21 L134.56,217.24 L135.05,214.53 L135.53,212.01 L136.02,209.65 L136.51,207.39 L137.00,205.20 L137.49,203.02 L137.98,200.80 L138.47,198.51 L138.96,196.48 L139.45,194.54 L139.94,192.69 L140.43,190.91 L140.92,189.21 L141.41,187.57 L141.90,185.99 L142.39,184.50 L142.88,183.09 L143.37,181.73 L143.86,180.42 L144.35,179.12 L144.84,177.86 L145.32,176.63 L145.81,175.43 L146.30,174.27 L146.79,173.14 L147.28,172.06 L147.77,171.00 L148.26,169.97 L148.75,168.97 L149.24,168.00 L149.73,167.06 L150.22,166.15 L150.71,165.26 L151.20,164.40 L151.69,163.56 L152.18,162.74 L152.67,161.95 L153.16,161.18 L153.65,160.43 L154.14,159.71 L154.63,159.00 L155.12,158.31 L155.60,157.63 L156.09,156.98 L156.58,156.34 L157.07,155.73 L157.56,155.13 L158.05,154.54 L158.54,153.97 L159.03,153.42 L159.52,152.87 L160.01,152.33 L160.50,151.81 L160.99,151.29 L161.48,150.78 L161.97,150.28 L162.46,149.79 L162.95,149.30 L163.44,148.82 L163.93,148.35 L164.42,147.89 L164.91,147.44 L165.39,146.99 L165.88,146.55 L166.37,146.11 L166.86,145.68 L167.35,145.24 L167.84,144.82 L168.33,144.39 L168.82,143.96 L169.31,143.54 L169.80,143.12 L170.29,142.71 L170.78,142.29 L171.27,141.88 L171.76,141.48 L172.25,141.07 L172.74,140.67 L173.23,140.28 L173.72,139.88 L174.21,139.49 L174.70,139.10 L175.18,138.71 L175.67,138.33 L176.16,137.95 L176.65,137.57 L177.14,137.20 L177.63,136.82 L178.12,136.45 L178.61,136.09 L179.10,135.72 L179.59,135.36 L180.08,135.00 L180.57,134.65 L181.06,134.29 L181.55,133.94 L182.04,133.60 L182.53,133.25 L183.02,132.91 L183.51,132.57 L184.00,132.23 L184.49,131.89 L184.97,131.56 L185.46,131.23 L185.95,130.90 L186.44,130.57 L186.93,130.25 L187.42,129.93 L187.91,129.61 L188.40,129.29 L188.89,128.97 L189.38,128.66 L189.87,128.35 L190.36,128.04 L190.85,127.74 L191.34,127.44 L191.83,127.14 L192.32,126.84 L192.81,126.54 L193.30,126.24 L193.79,125.95 L194.28,125.66 L194.76,125.37 L195.25,125.09 L195.74,124.80 L196.23,124.52 L196.72,124.24 L197.21,123.96 L197.70,123.69 L198.19,123.41 L198.68,123.14 L199.17,122.88 L199.66,122.61 L200.15,122.35 L200.64,122.08 L201.13,121.82 L201.62,121.56 L202.11,121.30 L202.60,121.05 L203.09,120.79 L203.58,120.54 L204.07,120.29 L204.55,120.04 L205.04,119.79 L205.53,119.54 L206.02,119.30 L206.51,119.06 L207.00,118.82 L207.49,118.58 L207.98,118.34 L208.47,118.11 L208.96,117.88 L209.45,117.65 L209.94,117.42 L210.43,117.19 L210.92,116.96 L211.41,116.74 L211.90,116.52 L212.39,116.29 L212.88,116.07 L213.37,115.86 L213.86,115.64 L214.34,115.42 L214.83,115.21 L215.32,115.00 L215.81,114.78 L216.30,114.57 L216.79,114.36 L217.28,114.16 L217.77,113.95 L218.26,113.75 L218.75,113.54 L219.24,113.34 L219.73,113.14 L220.22,112.94 L220.71,112.74 L221.20,112.55 L221.69,112.35 L222.18,112.16 L222.67,111.96 L223.16,111.77 L223.65,111.58 L224.13,111.39 L224.62,111.20 L225.11,111.02 L225.60,110.83 L226.09,110.65 L226.58,110.47 L227.07,110.28 L227.56,110.10 L228.05,109.92 L228.54,109.74 L229.03,109.57 L229.52,109.39 L230.01,109.21 L230.50,109.04 L230.99,108.87 L231.48,108.69 L231.97,108.52 L232.46,108.35 L232.95,108.18 L233.44,108.01 L233.92,107.84 L234.41,107.67 L234.90,107.50 L235.39,107.34 L235.88,107.17 L236.37,107.01 L236.86,106.85 L237.35,106.68 L237.84,106.52 L238.33,106.36 L238.82,106.20 L239.31,106.04 L239.80,105.88 L240.29,105.72 L240.78,105.57 L241.27,105.41 L241.76,105.25 L242.25,105.10 L242.74,104.94 L243.23,104.79 L243.71,104.64 L244.20,104.48 L244.69,104.33 L245.18,104.18 L245.67,104.02 L246.16,103.87 L246.65,103.72 L247.14,103.57 L247.63,103.42 L248.12,103.27 L248.61,103.12 L249.10,102.97 L249.59,102.82 L250.08,102.67 L250.57,102.53 L251.06,102.38 L251.55,102.23 L252.04,102.08 L252.53,101.94 L253.02,101.79 L253.50,101.65 L253.99,101.50 L254.48,101.36 L254.97,101.21 L255.46,101.07 L255.95,100.92 L256.44,100.78 L256.93,100.64 L257.42,100.50 L257.91,100.35 L258.40,100.21 L258.89,100.07 L259.38,99.93 L259.87,99.79 L260.36,99.65 L260.85,99.51 L261.34,99.37 L261.83,99.23 L262.32,99.09 L262.81,98.95 L263.29,98.82 L263.78,98.68 L264.27,98.54 L264.76,98.40 L265.25,98.27 L265.74,98.13 L266.23,97.99 L266.72,97.86 L267.21,97.72 L267.70,97.59 L268.19,97.45 L268.68,97.32 L269.17,97.18 L269.66,97.05 L270.15,96.91 L270.64,96.78 L271.13,96.65 L271.62,96.51 L272.11,96.38 L272.60,96.25 L273.08,96.12 L273.57,95.99 L274.06,95.86 L274.55,95.72 L275.04,95.59 L275.53,95.46 L276.02,95.33 L276.51,95.20 L277.00,95.08 L277.49,94.95 L277.98,94.82 L278.47,94.69 L278.96,94.56 L279.45,94.43 L279.94,94.31 L280.43,94.18 L280.92,94.05 L281.41,93.93 L281.90,93.80 L282.39,93.68 L282.87,93.55 L283.36,93.43 L283.85,93.30 L284.34,93.18 L284.83,93.05 L285.32,92.93 L285.81,92.81 L286.30,92.68 L286.79,92.56 L287.28,92.44 L287.77,92.32 L288.26,92.19 L288.75,92.07 L289.24,91.95 L289.73,91.83 L290.22,91.71 L290.71,91.59 L291.20,91.47 L291.69,91.35 L292.18,91.23 L292.66,91.11 L293.15,90.99 L293.64,90.87 L294.13,90.75 L294.62,90.64 L295.11,90.52 L295.60,90.40 L296.09,90.28 L296.58,90.17 L297.07,90.05 L297.56,89.94 L298.05,89.82 L298.54,89.70 L299.03,89.59 L299.52,89.47 L300.01,89.36 L300.50,89.24 L300.99,89.13 L301.48,89.02 L301.97,88.90 L302.45,88.79 L302.94,88.68 L303.43,88.56 L303.92,88.45 L304.41,88.34 L304.90,88.23 L305.39,88.12 L305.88,88.00 L306.37,87.89 L306.86,87.78 L307.35,87.67 L307.84,87.56 L308.33,87.45 L308.82,87.34 L309.31,87.23 L309.80,87.12 L310.29,87.02 L310.78,86.91 L311.27,86.80 L311.76,86.69 L312.24,86.58 L312.73,86.48 L313.22,86.37 L313.71,86.26 L314.20,86.16 L314.69,86.05 L315.18,85.94 L315.67,85.84 L316.16,85.73 L316.65,85.63 L317.14,85.52 L317.63,85.42 L318.12,85.32 L318.61,85.21 L319.10,85.11 L319.59,85.00 L320.08,84.90 L320.57,84.80 L321.06,84.70 L321.55,84.59 L322.03,84.49 L322.52,84.39 L323.01,84.29 L323.50,84.19 L323.99,84.09 L324.48,83.98 L324.97,83.88 L325.46,83.78 L325.95,83.68 L326.44,83.58 L326.93,83.48 L327.42,83.38 L327.91,83.28 L328.40,83.18 L328.89,83.09 L329.38,82.99 L329.87,82.89 L330.36,82.79 L330.85,82.69 L331.34,82.60 L331.82,82.50 L332.31,82.40 L332.80,82.30 L333.29,82.21 L333.78,82.11 L334.27,82.02 L334.76,81.92 L335.25,81.82 L335.74,81.73 L336.23,81.63 L336.72,81.54 L337.21,81.45 L337.70,81.35 L338.19,81.26 L338.68,81.16 L339.17,81.07 L339.66,80.98 L340.15,80.88 L340.64,80.79 L341.13,80.70 L341.61,80.61 L342.10,80.52 L342.59,80.42 L343.08,80.33 L343.57,80.24 L344.06,80.15 L344.55,80.06 L345.04,79.97 L345.53,79.88 L346.02,79.79 L346.51,79.70 L347.00,79.61 L347.49,79.52 L347.98,79.43 L348.47,79.34 L348.96,79.25 L349.45,79.16 L349.94,79.07 L350.43,78.99 L350.92,78.90 L351.41,78.81 L351.89,78.72 L352.38,78.63 L352.87,78.55 L353.36,78.46 L353.85,78.37 L354.34,78.29 L354.83,78.20 L355.32,78.11 L355.81,78.03 L356.30,77.94 L356.79,77.86 L357.28,77.77 L357.77,77.69 L358.26,77.60 L358.75,77.52 L359.24,77.43 L359.73,77.35 L360.22,77.26 L360.71,77.18 L361.20,77.10 L361.68,77.01 L362.17,76.93 L362.66,76.85 L363.15,76.77 L363.64,76.68 L364.13,76.60 L364.62,76.52 L365.11,76.44 L365.60,76.35 L366.09,76.27 L366.58,76.19 L367.07,76.11 L367.56,76.03 L368.05,75.95 L368.54,75.87 L369.03,75.79 L369.52,75.71 L370.01,75.63 L370.50,75.55 L370.99,75.47 L371.47,75.39 L371.96,75.31 L372.45,75.23 L372.94,75.15 L373.43,75.07 L373.92,75.00 L374.41,74.92 L374.90,74.84 L375.39,74.76 L375.88,74.68 L376.37,74.61 L376.86,74.53 L377.35,74.45 L377.84,74.38 L378.33,74.30 L378.82,74.22 L379.31,74.15 L379.80,74.07 L380.29,73.99 L380.78,73.92 L381.26,73.84 L381.75,73.77 L382.24,73.69 L382.73,73.62 L383.22,73.54 L383.71,73.47 L384.20,73.39 L384.69,73.32 L385.18,73.25 L385.67,73.17 L386.16,73.10 L386.65,73.02 L387.14,72.95 L387.63,72.88 L388.12,72.80 L388.61,72.73 L389.10,72.66 L389.59,72.59 L390.08,72.51 L390.57,72.44 L391.05,72.37 L391.54,72.30 L392.03,72.23 L392.52,72.15 L393.01,72.08 L393.50,72.01 L393.99,71.94 L394.48,71.87 L394.97,71.80 L395.46,71.73 L395.95,71.66 L396.44,71.59 L396.93,71.52 L397.42,71.45 L397.91,71.38 L398.40,71.31 L398.89,71.24 L399.38,71.17 L399.87,71.10 L400.36,71.03 L400.84,70.96 L401.33,70.89 L401.82,70.82 L402.31,70.75 L402.80,70.69 L403.29,70.62 L403.78,70.55 L404.27,70.48 L404.76,70.41 L405.25,70.35 L405.74,70.28 L406.23,70.21 L406.72,70.14 L407.21,70.08 L407.70,70.01 L408.19,69.94 L408.68,69.88 L409.17,69.81 L409.66,69.74 L410.15,69.68 L410.63,69.61 L411.12,69.54 L411.61,69.48 L412.10,69.41 L412.59,69.35 L413.08,69.28 L413.57,69.22 L414.06,69.15 L414.55,69.09 L415.04,69.02 L415.53,68.96 L416.02,68.89 L416.51,68.83 L417.00,68.76 L417.49,68.70 L417.98,68.64 L418.47,68.57 L418.96,68.51 L419.45,68.45 L419.94,68.38 L420.42,68.32 L420.91,68.26 L421.40,68.19 L421.89,68.13 L422.38,68.07 L422.87,68.00 L423.36,67.94 L423.85,67.88 L424.34,67.82 L424.83,67.75 L425.32,67.69 L425.81,67.63 L426.30,67.57 L426.79,67.51 L427.28,67.44 L427.77,67.38 L428.26,67.32 L428.75,67.26 L429.24,67.20 L429.73,67.14 L430.21,67.08 L430.70,67.02 L431.19,66.95 L431.68,66.89 L432.17,66.83 L432.66,66.77 L433.15,66.71 L433.64,66.65 L434.13,66.59 L434.62,66.53 L435.11,66.47 L435.60,66.41 L436.09,66.35 L436.58,66.29 L437.07,66.23 L437.56,66.17 L438.05,66.12 L438.54,66.06 L439.03,66.00 L439.52,65.94 L440.00,65.88 L440.49,65.82 L440.98,65.76 L441.47,65.70 L441.96,65.64 L442.45,65.59 L442.94,65.53 L443.43,65.47 L443.92,65.41 L444.41,65.35 L444.90,65.29 L445.39,65.24 L445.88,65.18 L446.37,65.12 L446.86,65.06 L447.35,65.01 L447.84,64.95 L448.33,64.89 L448.82,64.83 L449.31,64.78 L449.79,64.72 L450.28,64.66 L450.77,64.60 L451.26,64.55 L451.75,64.49 L452.24,64.43 L452.73,64.38 L453.22,64.32 L453.71,64.26 L454.20,64.21 L454.69,64.15 L455.18,64.10 L455.67,64.04 L456.16,63.98 L456.65,63.93 L457.14,63.87 L457.63,63.82 L458.12,63.76 L458.61,63.70 L459.10,63.65 L459.58,63.59 L460.07,63.54 L460.56,63.48 L461.05,63.43 L461.54,63.37 L462.03,63.32 L462.52,63.26 L463.01,63.21 L463.50,63.15 L463.99,63.10 L464.48,63.04 L464.97,62.99 L465.46,62.93 L465.95,62.88 L466.44,62.82 L466.93,62.77 L467.42,62.71 L467.91,62.66 L468.40,62.61 L468.89,62.55 L469.37,62.50 L469.86,62.44 L470.35,62.39 L470.84,62.33 L471.33,62.28 L471.82,62.23 L472.31,62.17 L472.80,62.12 L473.29,62.06 L473.78,62.01 L474.27,61.96 L474.76,61.90 L475.25,61.85 L475.74,61.80 L476.23,61.74 L476.72,61.69 L477.21,61.64 L477.70,61.58 L478.19,61.53 L478.68,61.48 L479.16,61.42 L479.65,61.37 L480.14,61.32 L480.63,61.26 L481.12,61.21 L481.61,61.16 L482.10,61.11 L482.59,61.05 L483.08,61.00 L483.57,60.95 L484.06,60.89 L484.55,60.84 L485.04,60.79 L485.53,60.74 L486.02,60.68 L486.51,60.63 L487.00,60.58 L487.49,60.53 L487.98,60.47 L488.47,60.42 L488.95,60.37 L489.44,60.31 L489.93,60.26 L490.42,60.21 L490.91,60.16 L491.40,60.10 L491.89,60.05 L492.38,60.00 L492.87,59.95 L493.36,59.89 L493.85,59.84 L494.34,59.79 L494.83,59.74 L495.32,59.69 L495.81,59.63 L496.30,59.58 L496.79,59.53 L497.28,59.48 L497.77,59.43 L498.26,59.37 L498.74,59.32 L499.23,59.27 L499.72,59.22 L500.21,59.17 L500.70,59.11 L501.19,59.06 L501.68,59.01 L502.17,58.96 L502.66,58.91 L503.15,58.86 L503.64,58.80 L504.13,58.75 L504.62,58.70 L505.11,58.65 L505.60,58.60 L506.09,58.54 L506.58,58.49 L507.07,58.44 L507.56,58.39 L508.05,58.34 L508.53,58.28 L509.02,58.23 L509.51,58.18 L510.00,58.13 L510.49,58.08 L510.98,58.03 L511.47,57.97 L511.96,57.92 L512.45,57.87 L512.94,57.82 L513.43,57.77 L513.92,57.71 L514.41,57.66 L514.90,57.61 L515.39,57.56 L515.88,57.51 L516.37,57.46 L516.86,57.40 L517.35,57.35 L517.84,57.30 L518.32,57.25 L518.81,57.20 L519.30,57.15 L519.79,57.09 L520.28,57.04 L520.77,56.99 L521.26,56.94 L521.75,56.89 L522.24,56.83 L522.73,56.78 L523.22,56.73 L523.71,56.68 L524.20,56.63 L524.69,56.57 L525.18,56.52 L525.67,56.47 L526.16,56.42 L526.65,56.36 L527.14,56.31 L527.63,56.26 L528.11,56.21 L528.60,56.16 L529.09,56.10 L529.58,56.05 L530.07,56.00 L530.56,55.95 L531.05,55.89 L531.54,55.84 L532.03,55.79 L532.52,55.74 L533.01,55.68 L533.50,55.63 L533.99,55.58 L534.48,55.53 L534.97,55.47 L535.46,55.42 L535.95,55.37 L536.44,55.32 L536.93,55.26 L537.42,55.21 L537.90,55.16 L538.39,55.11 L538.88,55.05 L539.37,55.00 L539.86,54.95 L540.35,54.89 L540.84,54.84 L541.33,54.79 L541.82,54.74 L542.31,54.68 L542.80,54.63 L543.29,54.58 L543.78,54.52 L544.27,54.47 L544.76,54.42 L545.25,54.36 L545.74,54.31 L546.23,54.26 L546.72,54.20" stroke="#00a000" stroke-dasharray="9 3 4.5 3"/>
<path d="M106.65,151.75 L107.14,153.45 L107.63,155.12 L108.12,156.74 L108.61,158.33 L109.10,159.89 L109.59,161.44 L110.08,162.97 L110.57,164.50 L111.06,166.02 L111.55,167.56 L112.04,169.12 L112.53,170.69 L113.02,172.30 L113.51,173.94 L114.00,175.63 L114.49,177.37 L114.98,179.16 L115.47,181.02 L115.95,182.95 L116.44,184.96 L116.93,187.06 L117.42,189.25 L117.91,191.53 L118.40,193.93 L118.89,196.44 L119.38,199.06 L119.87,201.82 L120.36,204.71 L120.85,207.74 L121.34,210.92 L121.83,214.26 L122.32,217.75 L122.81,221.42 L123.30,225.29 L123.79,229.40 L124.28,233.81 L124.77,238.54 L125.26,243.67 L125.74,249.21 L126.23,255.06 L126.72,260.38 L127.21,264.09 L127.70,264.92 L128.19,263.69 L128.68,260.32 L129.17,255.64 L129.66,250.36 L130.15,245.04 L130.64,239.94 L131.13,235.11 L131.62,230.58 L132.11,226.42 L132.60,222.63 L133.09,219.19 L133.58,216.05 L134.07,213.19 L134.56,210.57 L135.05,208.14 L135.53,205.87 L136.02,203.72 L136.51,201.66 L137.00,199.64 L137.49,197.64 L137.98,195.60 L138.47,193.51 L138.96,191.65 L139.45,189.88 L139.94,188.18 L140.43,186.55 L140.92,184.99 L141.41,183.50 L141.90,182.06 L142.39,180.72 L142.88,179.45 L143.37,178.23 L143.86,177.03 L144.35,175.85 L144.84,174.69 L145.32,173.56 L145.81,172.46 L146.30,171.38 L146.79,170.34 L147.28,169.32 L147.77,168.33 L148.26,167.37 L148.75,166.43 L149.24,165.52 L149.73,164.63 L150.22,163.76 L150.71,162.92 L151.20,162.10 L151.69,161.30 L152.18,160.53 L152.67,159.77 L153.16,159.03 L153.65,158.31 L154.14,157.61 L154.63,156.93 L155.12,156.26 L155.60,155.61 L156.09,154.98 L156.58,154.36 L157.07,153.76 L157.56,153.18 L158.05,152.61 L158.54,152.06 L159.03,151.51 L159.52,150.98 L160.01,150.45 L160.50,149.94 L160.99,149.43 L161.48,148.93 L161.97,148.44 L162.46,147.96 L162.95,147.48 L163.44,147.01 L163.93,146.54 L164.42,146.09 L164.91,145.64 L165.39,145.20 L165.88,144.76 L166.37,144.33 L166.86,143.90 L167.35,143.47 L167.84,143.05 L168.33,142.62 L168.82,142.20 L169.31,141.78 L169.80,141.37 L170.29,140.95 L170.78,140.54 L171.27,140.14 L171.76,139.73 L172.25,139.33 L172.74,138.93 L173.23,138.54 L173.72,138.14 L174.21,137.75 L174.70,137.37 L175.18,136.98 L175.67,136.60 L176.16,136.22 L176.65,135.84 L177.14,135.47 L177.63,135.10 L178.12,134.73 L178.61,134.36 L179.10,134.00 L179.59,133.64 L180.08,133.28 L180.57,132.92 L181.06,132.57 L181.55,132.22 L182.04,131.87 L182.53,131.53 L183.02,131.19 L183.51,130.85 L184.00,130.51 L184.49,130.18 L184.97,129.84 L185.46,129.51 L185.95,129.18 L186.44,128.85 L186.93,128.53 L187.42,128.21 L187.91,127.89 L188.40,127.57 L188.89,127.26 L189.38,126.94 L189.87,126.63 L190.36,126.33 L190.85,126.02 L191.34,125.72 L191.83,125.42 L192.32,125.12 L192.81,124.82 L193.30,124.53 L193.79,124.24 L194.28,123.94 L194.76,123.66 L195.25,123.37 L195.74,123.09 L196.23,122.80 L196.72,122.52 L197.21,122.25 L197.70,121.97 L198.19,121.70 L198.68,121.43 L199.17,121.16 L199.66,120.89 L200.15,120.63 L200.64,120.37 L201.13,120.11 L201.62,119.85 L202.11,119.59 L202.60,119.33 L203.09,119.08 L203.58,118.82 L204.07,118.57 L204.55,118.32 L205.04,118.07 L205.53,117.83 L206.02,117.59 L206.51,117.34 L207.00,117.10 L207.49,116.86 L207.98,116.63 L208.47,116.39 L208.96,116.16 L209.45,115.93 L209.94,115.70 L210.43,115.47 L210.92,115.25 L211.41,115.02 L211.90,114.80 L212.39,114.58 L212.88,114.36 L213.37,114.14 L213.86,113.92 L214.34,113.71 L214.83,113.49 L215.32,113.28 L215.81,113.07 L216.30,112.86 L216.79,112.65 L217.28,112.44 L217.77,112.24 L218.26,112.03 L218.75,111.83 L219.24,111.63 L219.73,111.43 L220.22,111.23 L220.71,111.03 L221.20,110.83 L221.69,110.64 L222.18,110.44 L222.67,110.25 L223.16,110.06 L223.65,109.87 L224.13,109.68 L224.62,109.49 L225.11,109.30 L225.60,109.12 L226.09,108.93 L226.58,108.75 L227.07,108.57 L227.56,108.39 L228.05,108.21 L228.54,108.03 L229.03,107.85 L229.52,107.67 L230.01,107.50 L230.50,107.32 L230.99,107.15 L231.48,106.98 L231.97,106.80 L232.46,106.63 L232.95,106.46 L233.44,106.29 L233.92,106.12 L234.41,105.96 L234.90,105.79 L235.39,105.62 L235.88,105.46 L236.37,105.29 L236.86,105.13 L237.35,104.97 L237.84,104.81 L238.33,104.65 L238.82,104.49 L239.31,104.33 L239.80,104.17 L240.29,104.01 L240.78,103.85 L241.27,103.69 L241.76,103.54 L242.25,103.38 L242.74,103.23 L243.23,103.07 L243.71,102.92 L244.20,102.77 L244.69,102.61 L245.18,102.46 L245.67,102.31 L246.16,102.16 L246.65,102.01 L247.14,101.86 L247.63,101.71 L248.12,101.55 L248.61,101.40 L249.10,101.26 L249.59,101.11 L250.08,100.96 L250.57,100.81 L251.06,100.66 L251.55,100.52 L252.04,100.37 L252.53,100.22 L253.02,100.08 L253.50,99.93 L253.99,99.79 L254.48,99.64 L254.97,99.50 L255.46,99.35 L255.95,99.21 L256.44,99.07 L256.93,98.92 L257.42,98.78 L257.91,98.64 L258.40,98.50 L258.89,98.36 L259.38,98.22 L259.87,98.07 L260.36,97.93 L260.85,97.79 L261.34,97.65 L261.83,97.52 L262.32,97.38 L262.81,97.24 L263.29,97.10 L263.78,96.96 L264.27,96.82 L264.76,96.69 L265.25,96.55 L265.74,96.41 L266.23,96.28 L266.72,96.14 L267.21,96.01 L267.70,95.87 L268.19,95.74 L268.68,95.60 L269.17,95.47 L269.66,95.33 L270.15,95.20 L270.64,95.07 L271.13,94.93 L271.62,94.80 L272.11,94.67 L272.60,94.53 L273.08,94.40 L273.57,94.27 L274.06,94.14 L274.55,94.01 L275.04,93.88 L275.53,93.75 L276.02,93.62 L276.51,93.49 L277.00,93.36 L277.49,93.23 L277.98,93.10 L278.47,92.97 L278.96,92.85 L279.45,92.72 L279.94,92.59 L280.43,92.47 L280.92,92.34 L281.41,92.21 L281.90,92.09 L282.39,91.96 L282.87,91.84 L283.36,91.71 L283.85,91.59 L284.34,91.46 L284.83,91.34 L285.32,91.21 L285.81,91.09 L286.30,90.97 L286.79,90.85 L287.28,90.72 L287.77,90.60 L288.26,90.48 L288.75,90.36 L289.24,90.24 L289.73,90.11 L290.22,89.99 L290.71,89.87 L291.20,89.75 L291.69,89.63 L292.18,89.51 L292.66,89.40 L293.15,89.28 L293.64,89.16 L294.13,89.04 L294.62,88.92 L295.11,88.80 L295.60,88.69 L296.09,88.57 L296.58,88.45 L297.07,88.34 L297.56,88.22 L298.05,88.10 L298.54,87.99 L299.03,87.87 L299.52,87.76 L300.01,87.64 L300.50,87.53 L300.99,87.42 L301.48,87.30 L301.97,87.19 L302.45,87.08 L302.94,86.96 L303.43,86.85 L303.92,86.74 L304.41,86.62 L304.90,86.51 L305.39,86.40 L305.88,86.29 L306.37,86.18 L306.86,86.07 L307.35,85.96 L307.84,85.85 L308.33,85.74 L308.82,85.63 L309.31,85.52 L309.80,85.41 L310.29,85.30 L310.78,85.19 L311.27,85.08 L311.76,84.98 L312.24,84.87 L312.73,84.76 L313.22,84.65 L313.71,84.55 L314.20,84.44 L314.69,84.33 L315.18,84.23 L315.67,84.12 L316.16,84.02 L316.65,83.91 L317.14,83.81 L317.63,83.70 L318.12,83.60 L318.61,83.50 L319.10,83.39 L319.59,83.29 L320.08,83.19 L320.57,83.08 L321.06,82.98 L321.55,82.88 L322.03,82.78 L322.52,82.67 L323.01,82.57 L323.50,82.47 L323.99,82.37 L324.48,82.27 L324.97,82.17 L325.46,82.07 L325.95,81.97 L326.44,81.87 L326.93,81.77 L327.42,81.67 L327.91,81.57 L328.40,81.47 L328.89,81.37 L329.38,81.27 L329.87,81.17 L330.36,81.08 L330.85,80.98 L331.34,80.88 L331.82,80.78 L332.31,80.69 L332.80,80.59 L333.29,80.49 L333.78,80.40 L334.27,80.30 L334.76,80.21 L335.25,80.11 L335.74,80.01 L336.23,79.92 L336.72,79.83 L337.21,79.73 L337.70,79.64 L338.19,79.54 L338.68,79.45 L339.17,79.36 L339.66,79.26 L340.15,79.17 L340.64,79.08 L341.13,78.98 L341.61,78.89 L342.10,78.80 L342.59,78.71 L343.08,78.62 L343.57,78.53 L344.06,78.43 L344.55,78.34 L345.04,78.25 L345.53,78.16 L346.02,78.07 L346.51,77.98 L347.00,77.89 L347.49,77.80 L347.98,77.71 L348.47,77.62 L348.96,77.54 L349.45,77.45 L349.94,77.36 L350.43,77.27 L350.92,77.18 L351.41,77.09 L351.89,77.01 L352.38,76.92 L352.87,76.83 L353.36,76.75 L353.85,76.66 L354.34,76.57 L354.83,76.49 L355.32,76.40 L355.81,76.31 L356.30,76.23 L356.79,76.14 L357.28,76.06 L357.77,75.97 L358.26,75.89 L358.75,75.80 L359.24,75.72 L359.73,75.63 L360.22,75.55 L360.71,75.47 L361.20,75.38 L361.68,75.30 L362.17,75.22 L362.66,75.13 L363.15,75.05 L363.64,74.97 L364.13,74.89 L364.62,74.80 L365.11,74.72 L365.60,74.64 L366.09,74.56 L366.58,74.48 L367.07,74.40 L367.56,74.31 L368.05,74.23 L368.54,74.15 L369.03,74.07 L369.52,73.99 L370.01,73.91 L370.50,73.83 L370.99,73.75 L371.47,73.67 L371.96,73.60 L372.45,73.52 L372.94,73.44 L373.43,73.36 L373.92,73.28 L374.41,73.20 L374.90,73.12 L375.39,73.05 L375.88,72.97 L376.37,72.89 L376.86,72.81 L377.35,72.74 L377.84,72.66 L378.33,72.58 L378.82,72.51 L379.31,72.43 L379.80,72.36 L380.29,72.28 L380.78,72.20 L381.26,72.13 L381.75,72.05 L382.24,71.98 L382.73,71.90 L383.22,71.83 L383.71,71.75 L384.20,71.68 L384.69,71.60 L385.18,71.53 L385.67,71.46 L386.16,71.38 L386.65,71.31 L387.14,71.24 L387.63,71.16 L388.12,71.09 L388.61,71.02 L389.10,70.94 L389.59,70.87 L390.08,70.80 L390.57,70.73 L391.05,70.65 L391.54,70.58 L392.03,70.51 L392.52,70.44 L393.01,70.37 L393.50,70.30 L393.99,70.23 L394.48,70.15 L394.97,70.08 L395.46,70.01 L395.95,69.94 L396.44,69.87 L396.93,69.80 L397.42,69.73 L397.91,69.66 L398.40,69.59 L398.89,69.52 L399.38,69.45 L399.87,69.38 L400.36,69.31 L400.84,69.25 L401.33,69.18 L401.82,69.11 L402.31,69.04 L402.80,68.97 L403.29,68.90 L403.78,68.83 L404.27,68.77 L404.76,68.70 L405.25,68.63 L405.74,68.56 L406.23,68.50 L406.72,68.43 L407.21,68.36 L407.70,68.29 L408.19,68.23 L408.68,68.16 L409.17,68.09 L409.66,68.03 L410.15,67.96 L410.63,67.90 L411.12,67.83 L411.61,67.76 L412.10,67.70 L412.59,67.63 L413.08,67.57 L413.57,67.50 L414.06,67.44 L414.55,67.37 L415.04,67.31 L415.53,67.24 L416.02,67.18 L416.51,67.11 L417.00,67.05 L417.49,66.99 L417.98,66.92 L418.47,66.86 L418.96,66.79 L419.45,66.73 L419.94,66.67 L420.42,66.60 L420.91,66.54 L421.40,66.48 L421.89,66.41 L422.38,66.35 L422.87,66.29 L423.36,66.23 L423.85,66.16 L424.34,66.10 L424.83,66.04 L425.32,65.98 L425.81,65.91 L426.30,65.85 L426.79,65.79 L427.28,65.73 L427.77,65.67 L428.26,65.61 L428.75,65.54 L429.24,65.48 L429.73,65.42 L430.21,65.36 L430.70,65.30 L431.19,65.24 L431.68,65.18 L432.17,65.12 L432.66,65.06 L433.15,65.00 L433.64,64.94 L434.13,64.88 L434.62,64.82 L435.11,64.76 L435.60,64.70 L436.09,64.64 L436.58,64.58 L437.07,64.52 L437.56,64.46 L438.05,64.40 L438.54,64.34 L439.03,64.28 L439.52,64.22 L440.00,64.16 L440.49,64.11 L440.98,64.05 L441.47,63.99 L441.96,63.93 L442.45,63.87 L442.94,63.81 L443.43,63.75 L443.92,63.70 L444.41,63.64 L444.90,63.58 L445.39,63.52 L445.88,63.46 L446.37,63.41 L446.86,63.35 L447.35,63.29 L447.84,63.23 L448.33,63.18 L448.82,63.12 L449.31,63.06 L449.79,63.00 L450.28,62.95 L450.77,62.89 L451.26,62.83 L451.75,62.78 L452.24,62.72 L452.73,62.66 L453.22,62.61 L453.71,62.55 L454.20,62.49 L454.69,62.44 L455.18,62.38 L455.67,62.32 L456.16,62.27 L456.65,62.21 L457.14,62.16 L457.63,62.10 L458.12,62.05 L458.61,61.99 L459.10,61.93 L459.58,61.88 L460.07,61.82 L460.56,61.77 L461.05,61.71 L461.54,61.66 L462.03,61.60 L462.52,61.55 L463.01,61.49 L463.50,61.44 L463.99,61.38 L464.48,61.33 L464.97,61.27 L465.46,61.22 L465.95,61.16 L466.44,61.11 L466.93,61.05 L467.42,61.00 L467.91,60.94 L468.40,60.89 L468.89,60.84 L469.37,60.78 L469.86,60.73 L470.35,60.67 L470.84,60.62 L471.33,60.56 L471.82,60.51 L472.31,60.46 L472.80,60.40 L473.29,60.35 L473.78,60.30 L474.27,60.24 L474.76,60.19 L475.25,60.13 L475.74,60.08 L476.23,60.03 L476.72,59.97 L477.21,59.92 L477.70,59.87 L478.19,59.81 L478.68,59.76 L479.16,59.71 L479.65,59.66 L480.14,59.60 L480.63,59.55 L481.12,59.50 L481.61,59.44 L482.10,59.39 L482.59,59.34 L483.08,59.28 L483.57,59.23 L484.06,59.18 L484.55,59.13 L485.04,59.07 L485.53,59.02 L486.02,58.97 L486.51,58.92 L487.00,58.86 L487.49,58.81 L487.98,58.76 L488.47,58.70 L488.95,58.65 L489.44,58.60 L489.93,58.55 L490.42,58.49 L490.91,58.44 L491.40,58.39 L491.89,58.34 L492.38,58.28 L492.87,58.23 L493.36,58.18 L493.85,58.13 L494.34,58.08 L494.83,58.02 L495.32,57.97 L495.81,57.92 L496.30,57.87 L496.79,57.81 L497.28,57.76 L497.77,57.71 L498.26,57.66 L498.74,57.61 L499.23,57.55 L499.72,57.50 L500.21,57.45 L500.70,57.40 L501.19,57.35 L501.68,57.30 L502.17,57.24 L502.66,57.19 L503.15,57.14 L503.64,57.09 L504.13,57.04 L504.62,56.98 L505.11,56.93 L505.60,56.88 L506.09,56.83 L506.58,56.78 L507.07,56.73 L507.56,56.67 L508.05,56.62 L508.53,56.57 L509.02,56.52 L509.51,56.47 L510.00,56.41 L510.49,56.36 L510.98,56.31 L511.47,56.26 L511.96,56.21 L512.45,56.16 L512.94,56.10 L513.43,56.05 L513.92,56.00 L514.41,55.95 L514.90,55.90 L515.39,55.84 L515.88,55.79 L516.37,55.74 L516.86,55.69 L517.35,55.64 L517.84,55.59 L518.32,55.53 L518.81,55.48 L519.30,55.43 L519.79,55.38 L520.28,55.33 L520.77,55.27 L521.26,55.22 L521.75,55.17 L522.24,55.12 L522.73,55.07 L523.22,55.02 L523.71,54.96 L524.20,54.91 L524.69,54.86 L525.18,54.81 L525.67,54.75 L526.16,54.70 L526.65,54.65 L527.14,54.60 L527.63,54.55 L528.11,54.49 L528.60,54.44 L529.09,54.39 L529.58,54.34 L530.07,54.28 L530.56,54.23 L531.05,54.18 L531.54,54.13 L532.03,54.07 L532.52,54.02 L533.01,53.97 L533.50,53.92 L533.99,53.86 L534.48,53.81 L534.97,53.76 L535.46,53.71 L535.95,53.65 L536.44,53.60 L536.93,53.55 L537.42,53.50 L537.90,53.44 L538.39,53.39 L538.88,53.34 L539.37,53.28 L539.86,53.23 L540.35,53.18 L540.84,53.13 L541.33,53.07 L541.82,53.02 L542.31,52.97 L542.80,52.91 L543.29,52.86 L543.78,52.81 L544.27,52.75 L544.76,52.70 L545.25,52.65 L545.74,52.59 L546.23,52.54 L546.72,52.49" stroke="#000" stroke-dasharray="4 3.6"/>
</g>
<text x="91.46" y="21.20" font-size="19.5" font-weight="bold" style="font-kerning:none">0</text>
<text x="80.07" y="70.20" font-size="19.5" font-weight="bold" style="font-kerning:none">− </text><path transform="translate(91.46,70.20) scale(0.009521,-0.009521)" d="M518,0V1170L140,959V1180L533,1409H799V0Z"/>
<text x="80.07" y="119.20" font-size="19.5" font-weight="bold" style="font-kerning:none">−2</text>
<text x="80.07" y="168.20" font-size="19.5" font-weight="bold" style="font-kerning:none">−3</text>
<text x="80.07" y="217.20" font-size="19.5" font-weight="bold" style="font-kerning:none">−4</text>
<text x="80.07" y="266.20" font-size="19.5" font-weight="bold" style="font-kerning:none">−5</text>
<text x="124.92" y="306.20" font-size="19.5" font-weight="bold" style="font-kerning:none"> 8.0</text><path transform="translate(124.92,306.20) scale(0.009521,-0.009521)" d="M518,0V1170L140,959V1180L533,1409H799V0Z"/>
<text x="211.82" y="306.20" font-size="19.5" font-weight="bold" style="font-kerning:none"> 8.5</text><path transform="translate(211.82,306.20) scale(0.009521,-0.009521)" d="M518,0V1170L140,959V1180L533,1409H799V0Z"/>
<text x="298.72" y="306.20" font-size="19.5" font-weight="bold" style="font-kerning:none"> 9.0</text><path transform="translate(298.72,306.20) scale(0.009521,-0.009521)" d="M518,0V1170L140,959V1180L533,1409H799V0Z"/>
<text x="385.62" y="306.20" font-size="19.5" font-weight="bold" style="font-kerning:none"> 9.5</text><path transform="translate(385.62,306.20) scale(0.009521,-0.009521)" d="M518,0V1170L140,959V1180L533,1409H799V0Z"/>
<text x="472.52" y="306.20" font-size="19.5" font-weight="bold" style="font-kerning:none">20.0</text>
<text x="288.0" y="341.1" font-size="26.5" font-style="italic">E</text>
<text x="305.8" y="345.3" font-size="18" font-style="italic">i</text>
<text x="317.5" y="341.6" font-size="24">(eV)</text>
<g transform="translate(44,251) rotate(-90)">
<text x="0" y="0" font-size="26.5">Log</text>
<text x="46.00" y="5.00" font-size="18" style="font-kerning:none"> 0</text><path transform="translate(46.00,5.00) scale(0.008789,-0.008789)" d="M555,0V1237L197,1010V1180L570,1409H736V0Z"/>
<line x1="72.6" y1="-8.8" x2="128.7" y2="-8.8" stroke="#000" stroke-width="2"/>
<text x="70" y="-17.5" font-size="26.5">d<tspan font-style="italic">σ</tspan><tspan font-size="18" dy="5" dx="1.5">Ps</tspan></text>
<text x="81" y="23" font-size="26.5">dΩ</text>
<text x="137.8" y="0.6" font-size="24.5">(</text>
<text x="146.3" y="0.6" font-size="22.5" font-style="italic">a</text>
<text x="159.0" y="-9.2" font-size="17">2</text>
<text x="159.2" y="6.6" font-size="17">0</text>
<text x="169.5" y="0.6" font-size="24.5">/</text>
<text x="176.6" y="0.6" font-size="22.5">s</text>
<text x="188.2" y="0.6" font-size="23">r</text>
<text x="196.2" y="0.6" font-size="24.5">)</text>
</g>

<rect x="113.3" y="22.4" width="223.5" height="53.3" rx="8.5" ry="8.5" fill="#fff" stroke="#000" stroke-width="2.4"/>
<g fill="none" stroke-width="3">
<path d="M112.4,31.3H172.6" stroke="#0000ff"/>
<path d="M210.4,31.3H266.7" stroke="#ff0000" stroke-dasharray="9 3"/>
<path d="M119.8,65.8H168.3" stroke="#00a000" stroke-dasharray="9.3 2.7 5 2.5" stroke-dashoffset="0"/>
<path d="M112.6,65.8H117" stroke="#00a000"/>
<path d="M231.1,65.6H288" stroke="#000" stroke-dasharray="4 3.6"/>
</g>
<g font-size="18">
<text x="182" y="36.6" font-style="italic">ω</text>
<text x="281" y="36.6" font-style="italic">ω</text><text x="295.02" y="36.60" font-size="18" style="font-kerning:none">− </text><path transform="translate(305.53,36.60) scale(0.008789,-0.008789)" d="M555,0V1237L197,1010V1180L570,1409H736V0Z"/>
<text x="182" y="71.3"><tspan font-style="italic">ω</tspan>−2</text>
<text x="302" y="71.3"><tspan font-style="italic">ω</tspan>−3</text>
</g>
<rect x="318.5" y="120.5" width="206.0" height="127.0" fill="#fff" stroke="#bcbcbc" stroke-width="1"/>
<path d="M329.5,247.5v-4.5M329.5,120.5v4.5M340.5,247.5v-3M340.5,120.5v3M352.5,247.5v-3M352.5,120.5v3M363.5,247.5v-3M363.5,120.5v3M375.5,247.5v-3M375.5,120.5v3M386.5,247.5v-4.5M386.5,120.5v4.5M397.5,247.5v-3M397.5,120.5v3M409.5,247.5v-3M409.5,120.5v3M420.5,247.5v-3M420.5,120.5v3M431.5,247.5v-3M431.5,120.5v3M443.5,247.5v-4.5M443.5,120.5v4.5M454.5,247.5v-3M454.5,120.5v3M466.5,247.5v-3M466.5,120.5v3M477.5,247.5v-3M477.5,120.5v3M488.5,247.5v-3M488.5,120.5v3M500.5,247.5v-4.5M500.5,120.5v4.5M511.5,247.5v-3M511.5,120.5v3M522.5,247.5v-3M522.5,120.5v3M318.5,120.5h4.5M524.5,120.5h-4.5M318.5,124.5h3M524.5,124.5h-3M318.5,128.5h3M524.5,128.5h-3M318.5,131.5h3M524.5,131.5h-3M318.5,135.5h3M524.5,135.5h-3M318.5,138.5h4.5M524.5,138.5h-4.5M318.5,142.5h3M524.5,142.5h-3M318.5,146.5h3M524.5,146.5h-3M318.5,149.5h3M524.5,149.5h-3M318.5,153.5h3M524.5,153.5h-3M318.5,156.5h4.5M524.5,156.5h-4.5M318.5,160.5h3M524.5,160.5h-3M318.5,164.5h3M524.5,164.5h-3M318.5,167.5h3M524.5,167.5h-3M318.5,171.5h3M524.5,171.5h-3M318.5,174.5h4.5M524.5,174.5h-4.5M318.5,178.5h3M524.5,178.5h-3M318.5,182.5h3M524.5,182.5h-3M318.5,185.5h3M524.5,185.5h-3M318.5,189.5h3M524.5,189.5h-3M318.5,193.5h4.5M524.5,193.5h-4.5M318.5,196.5h3M524.5,196.5h-3M318.5,200.5h3M524.5,200.5h-3M318.5,203.5h3M524.5,203.5h-3M318.5,207.5h3M524.5,207.5h-3M318.5,211.5h4.5M524.5,211.5h-4.5M318.5,214.5h3M524.5,214.5h-3M318.5,218.5h3M524.5,218.5h-3M318.5,221.5h3M524.5,221.5h-3M318.5,225.5h3M524.5,225.5h-3M318.5,229.5h4.5M524.5,229.5h-4.5M318.5,232.5h3M524.5,232.5h-3M318.5,236.5h3M524.5,236.5h-3M318.5,239.5h3M524.5,239.5h-3M318.5,243.5h3M524.5,243.5h-3M318.5,247.5h4.5M524.5,247.5h-4.5" stroke="#bcbcbc" stroke-width="1" fill="none"/>
<g clip-path="url(#ci)" fill="none" stroke-width="3.0" stroke-linejoin="round">
<path d="M316.98,143.01 L317.40,143.27 L317.82,143.54 L318.23,143.80 L318.65,144.06 L319.07,144.32 L319.49,144.57 L319.90,144.83 L320.32,145.08 L320.74,145.33 L321.16,145.58 L321.57,145.83 L321.99,146.08 L322.41,146.32 L322.82,146.56 L323.24,146.80 L323.66,147.04 L324.08,147.28 L324.49,147.52 L324.91,147.75 L325.33,147.99 L325.75,148.22 L326.16,148.45 L326.58,148.68 L327.00,148.91 L327.42,149.13 L327.83,149.36 L328.25,149.58 L328.67,149.80 L329.08,150.02 L329.50,150.24 L329.92,150.46 L330.34,150.68 L330.75,150.89 L331.17,151.11 L331.59,151.32 L332.01,151.53 L332.42,151.74 L332.84,151.95 L333.26,152.16 L333.68,152.36 L334.09,152.57 L334.51,152.77 L334.93,152.97 L335.35,153.18 L335.76,153.38 L336.18,153.58 L336.60,153.78 L337.01,153.97 L337.43,154.17 L337.85,154.36 L338.27,154.56 L338.68,154.75 L339.10,154.94 L339.52,155.13 L339.94,155.33 L340.35,155.51 L340.77,155.70 L341.19,155.89 L341.61,156.08 L342.02,156.26 L342.44,156.45 L342.86,156.63 L343.27,156.81 L343.69,157.00 L344.11,157.18 L344.53,157.36 L344.94,157.54 L345.36,157.72 L345.78,157.90 L346.20,158.07 L346.61,158.25 L347.03,158.43 L347.45,158.60 L347.87,158.78 L348.28,158.95 L348.70,159.13 L349.12,159.30 L349.53,159.47 L349.95,159.65 L350.37,159.82 L350.79,159.99 L351.20,160.16 L351.62,160.33 L352.04,160.50 L352.46,160.67 L352.87,160.84 L353.29,161.00 L353.71,161.17 L354.13,161.34 L354.54,161.51 L354.96,161.67 L355.38,161.84 L355.79,162.00 L356.21,162.17 L356.63,162.33 L357.05,162.50 L357.46,162.66 L357.88,162.83 L358.30,162.99 L358.72,163.16 L359.13,163.32 L359.55,163.48 L359.97,163.65 L360.39,163.81 L360.80,163.97 L361.22,164.14 L361.64,164.30 L362.06,164.46 L362.47,164.62 L362.89,164.79 L363.31,164.95 L363.72,165.11 L364.14,165.27 L364.56,165.44 L364.98,165.60 L365.39,165.76 L365.81,165.92 L366.23,166.09 L366.65,166.25 L367.06,166.41 L367.48,166.57 L367.90,166.74 L368.32,166.90 L368.73,167.06 L369.15,167.23 L369.57,167.39 L369.98,167.56 L370.40,167.72 L370.82,167.88 L371.24,168.05 L371.65,168.21 L372.07,168.38 L372.49,168.54 L372.91,168.71 L373.32,168.88 L373.74,169.04 L374.16,169.21 L374.58,169.38 L374.99,169.54 L375.41,169.71 L375.83,169.88 L376.24,170.05 L376.66,170.22 L377.08,170.39 L377.50,170.56 L377.91,170.73 L378.33,170.90 L378.75,171.07 L379.17,171.25 L379.58,171.42 L380.00,171.59 L380.42,171.77 L380.84,171.94 L381.25,172.12 L381.67,172.30 L382.09,172.47 L382.50,172.65 L382.92,172.83 L383.34,173.01 L383.76,173.19 L384.17,173.37 L384.59,173.55 L385.01,173.73 L385.43,173.92 L385.84,174.10 L386.26,174.29 L386.68,174.47 L387.10,174.66 L387.51,174.85 L387.93,175.03 L388.35,175.22 L388.76,175.41 L389.18,175.61 L389.60,175.80 L390.02,175.99 L390.43,176.18 L390.85,176.38 L391.27,176.58 L391.69,176.77 L392.10,176.97 L392.52,177.17 L392.94,177.37 L393.36,177.57 L393.77,177.78 L394.19,177.98 L394.61,178.19 L395.03,178.39 L395.44,178.60 L395.86,178.81 L396.28,179.02 L396.69,179.23 L397.11,179.44 L397.53,179.66 L397.95,179.87 L398.36,180.09 L398.78,180.31 L399.20,180.53 L399.62,180.75 L400.03,180.97 L400.45,181.19 L400.87,181.42 L401.29,181.64 L401.70,181.87 L402.12,182.10 L402.54,182.33 L402.95,182.56 L403.37,182.80 L403.79,183.03 L404.21,183.27 L404.62,183.51 L405.04,183.74 L405.46,183.99 L405.88,184.23 L406.29,184.47 L406.71,184.72 L407.13,184.97 L407.55,185.22 L407.96,185.47 L408.38,185.72 L408.80,185.98 L409.21,186.23 L409.63,186.49 L410.05,186.75 L410.47,187.01 L410.88,187.28 L411.30,187.54 L411.72,187.81 L412.14,188.08 L412.55,188.35 L412.97,188.62 L413.39,188.90 L413.81,189.17 L414.22,189.45 L414.64,189.73 L415.06,190.02 L415.47,190.30 L415.89,190.59 L416.31,190.88 L416.73,191.17 L417.14,191.46 L417.56,191.76 L417.98,192.05 L418.40,192.35 L418.81,192.65 L419.23,192.96 L419.65,193.26 L420.07,193.56 L420.48,193.87 L420.90,194.18 L421.32,194.49 L421.74,194.80 L422.15,195.11 L422.57,195.43 L422.99,195.74 L423.40,196.05 L423.82,196.37 L424.24,196.68 L424.66,197.00 L425.07,197.31 L425.49,197.62 L425.91,197.94 L426.33,198.25 L426.74,198.56 L427.16,198.87 L427.58,199.18 L428.00,199.50 L428.41,199.80 L428.83,200.11 L429.25,200.42 L429.66,200.72 L430.08,201.03 L430.50,201.33 L430.92,201.62 L431.33,201.92 L431.75,202.22 L432.17,202.51 L432.59,202.80 L433.00,203.09 L433.42,203.37 L433.84,203.65 L434.26,203.93 L434.67,204.20 L435.09,204.48 L435.51,204.75 L435.92,205.01 L436.34,205.27 L436.76,205.53 L437.18,205.78 L437.59,206.03 L438.01,206.27 L438.43,206.52 L438.85,206.75 L439.26,206.99 L439.68,207.21 L440.10,207.43 L440.52,207.65 L440.93,207.86 L441.35,208.06 L441.77,208.26 L442.18,208.46 L442.60,208.65 L443.02,208.83 L443.44,209.01 L443.85,209.18 L444.27,209.34 L444.69,209.50 L445.11,209.65 L445.52,209.80 L445.94,209.94 L446.36,210.07 L446.78,210.20 L447.19,210.31 L447.61,210.41 L448.03,210.51 L448.44,210.61 L448.86,210.71 L449.28,210.80 L449.70,210.87 L450.11,210.94 L450.53,210.98 L450.95,211.01 L451.37,211.01 L451.78,211.01 L452.20,211.02 L452.62,211.02 L453.04,211.02 L453.45,211.02 L453.87,211.02 L454.29,211.02 L454.71,211.02 L455.12,211.00 L455.54,210.95 L455.96,210.89 L456.37,210.81 L456.79,210.72 L457.21,210.63 L457.63,210.54 L458.04,210.45 L458.46,210.36 L458.88,210.25 L459.30,210.13 L459.71,210.00 L460.13,209.87 L460.55,209.73 L460.97,209.58 L461.38,209.44 L461.80,209.29 L462.22,209.13 L462.63,208.96 L463.05,208.79 L463.47,208.61 L463.89,208.43 L464.30,208.24 L464.72,208.05 L465.14,207.85 L465.56,207.65 L465.97,207.44 L466.39,207.23 L466.81,207.02 L467.23,206.80 L467.64,206.57 L468.06,206.35 L468.48,206.12 L468.89,205.88 L469.31,205.65 L469.73,205.41 L470.15,205.16 L470.56,204.91 L470.98,204.66 L471.40,204.41 L471.82,204.16 L472.23,203.90 L472.65,203.64 L473.07,203.38 L473.49,203.12 L473.90,202.85 L474.32,202.58 L474.74,202.31 L475.15,202.05 L475.57,201.78 L475.99,201.50 L476.41,201.23 L476.82,200.96 L477.24,200.68 L477.66,200.41 L478.08,200.13 L478.49,199.85 L478.91,199.58 L479.33,199.30 L479.75,199.03 L480.16,198.75 L480.58,198.48 L481.00,198.20 L481.42,197.93 L481.83,197.66 L482.25,197.39 L482.67,197.12 L483.08,196.85 L483.50,196.58 L483.92,196.31 L484.34,196.05 L484.75,195.79 L485.17,195.53 L485.59,195.27 L486.01,195.02 L486.42,194.76 L486.84,194.51 L487.26,194.27 L487.68,194.02 L488.09,193.78 L488.51,193.54 L488.93,193.30 L489.34,193.07 L489.76,192.84 L490.18,192.61 L490.60,192.39 L491.01,192.17 L491.43,191.95 L491.85,191.73 L492.27,191.51 L492.68,191.30 L493.10,191.09 L493.52,190.89 L493.94,190.68 L494.35,190.48 L494.77,190.28 L495.19,190.08 L495.60,189.88 L496.02,189.69 L496.44,189.49 L496.86,189.30 L497.27,189.11 L497.69,188.93 L498.11,188.74 L498.53,188.56 L498.94,188.37 L499.36,188.19 L499.78,188.01 L500.20,187.83 L500.61,187.66 L501.03,187.48 L501.45,187.31 L501.86,187.13 L502.28,186.96 L502.70,186.79 L503.12,186.62 L503.53,186.45 L503.95,186.28 L504.37,186.11 L504.79,185.95 L505.20,185.78 L505.62,185.62 L506.04,185.45 L506.46,185.29 L506.87,185.12 L507.29,184.96 L507.71,184.79 L508.12,184.63 L508.54,184.47 L508.96,184.30 L509.38,184.14 L509.79,183.98 L510.21,183.82 L510.63,183.65 L511.05,183.49 L511.46,183.33 L511.88,183.16 L512.30,183.00 L512.72,182.84 L513.13,182.67 L513.55,182.51 L513.97,182.34 L514.39,182.17 L514.80,182.01 L515.22,181.84 L515.64,181.67 L516.05,181.50 L516.47,181.33 L516.89,181.16 L517.31,180.99 L517.72,180.81 L518.14,180.64 L518.56,180.46 L518.98,180.29 L519.39,180.11 L519.81,179.93 L520.23,179.75 L520.65,179.57 L521.06,179.38 L521.48,179.19 L521.90,178.99 L522.31,178.80 L522.73,178.60 L523.15,178.41 L523.57,178.22 L523.98,178.03 L524.40,177.86 L524.82,177.69 L525.24,177.51" stroke="#0000ff"/>
<path d="M316.98,144.97 L317.40,145.18 L317.82,145.40 L318.23,145.61 L318.65,145.82 L319.07,146.03 L319.49,146.24 L319.90,146.44 L320.32,146.65 L320.74,146.86 L321.16,147.06 L321.57,147.27 L321.99,147.47 L322.41,147.68 L322.82,147.88 L323.24,148.08 L323.66,148.28 L324.08,148.48 L324.49,148.68 L324.91,148.88 L325.33,149.08 L325.75,149.28 L326.16,149.48 L326.58,149.67 L327.00,149.87 L327.42,150.06 L327.83,150.26 L328.25,150.45 L328.67,150.65 L329.08,150.84 L329.50,151.03 L329.92,151.22 L330.34,151.41 L330.75,151.60 L331.17,151.79 L331.59,151.98 L332.01,152.17 L332.42,152.36 L332.84,152.55 L333.26,152.73 L333.68,152.92 L334.09,153.11 L334.51,153.29 L334.93,153.48 L335.35,153.66 L335.76,153.85 L336.18,154.03 L336.60,154.21 L337.01,154.40 L337.43,154.58 L337.85,154.76 L338.27,154.94 L338.68,155.12 L339.10,155.30 L339.52,155.48 L339.94,155.66 L340.35,155.84 L340.77,156.02 L341.19,156.20 L341.61,156.38 L342.02,156.56 L342.44,156.73 L342.86,156.91 L343.27,157.09 L343.69,157.27 L344.11,157.44 L344.53,157.62 L344.94,157.79 L345.36,157.97 L345.78,158.15 L346.20,158.32 L346.61,158.50 L347.03,158.67 L347.45,158.85 L347.87,159.02 L348.28,159.19 L348.70,159.37 L349.12,159.54 L349.53,159.71 L349.95,159.89 L350.37,160.06 L350.79,160.23 L351.20,160.41 L351.62,160.58 L352.04,160.75 L352.46,160.92 L352.87,161.10 L353.29,161.27 L353.71,161.44 L354.13,161.61 L354.54,161.78 L354.96,161.96 L355.38,162.13 L355.79,162.30 L356.21,162.47 L356.63,162.64 L357.05,162.81 L357.46,162.99 L357.88,163.16 L358.30,163.33 L358.72,163.50 L359.13,163.67 L359.55,163.84 L359.97,164.02 L360.39,164.19 L360.80,164.36 L361.22,164.53 L361.64,164.70 L362.06,164.87 L362.47,165.05 L362.89,165.22 L363.31,165.39 L363.72,165.56 L364.14,165.74 L364.56,165.91 L364.98,166.08 L365.39,166.25 L365.81,166.43 L366.23,166.60 L366.65,166.77 L367.06,166.95 L367.48,167.12 L367.90,167.29 L368.32,167.47 L368.73,167.64 L369.15,167.82 L369.57,167.99 L369.98,168.17 L370.40,168.34 L370.82,168.52 L371.24,168.69 L371.65,168.87 L372.07,169.05 L372.49,169.22 L372.91,169.40 L373.32,169.58 L373.74,169.75 L374.16,169.93 L374.58,170.11 L374.99,170.29 L375.41,170.47 L375.83,170.65 L376.24,170.83 L376.66,171.01 L377.08,171.19 L377.50,171.37 L377.91,171.55 L378.33,171.73 L378.75,171.91 L379.17,172.09 L379.58,172.28 L380.00,172.46 L380.42,172.64 L380.84,172.83 L381.25,173.01 L381.67,173.19 L382.09,173.38 L382.50,173.56 L382.92,173.75 L383.34,173.93 L383.76,174.12 L384.17,174.30 L384.59,174.49 L385.01,174.67 L385.43,174.86 L385.84,175.05 L386.26,175.23 L386.68,175.42 L387.10,175.61 L387.51,175.79 L387.93,175.98 L388.35,176.17 L388.76,176.36 L389.18,176.55 L389.60,176.73 L390.02,176.92 L390.43,177.11 L390.85,177.30 L391.27,177.49 L391.69,177.68 L392.10,177.87 L392.52,178.06 L392.94,178.25 L393.36,178.44 L393.77,178.63 L394.19,178.82 L394.61,179.01 L395.03,179.20 L395.44,179.39 L395.86,179.58 L396.28,179.77 L396.69,179.96 L397.11,180.16 L397.53,180.35 L397.95,180.54 L398.36,180.73 L398.78,180.92 L399.20,181.12 L399.62,181.31 L400.03,181.51 L400.45,181.70 L400.87,181.90 L401.29,182.09 L401.70,182.29 L402.12,182.49 L402.54,182.69 L402.95,182.89 L403.37,183.09 L403.79,183.30 L404.21,183.50 L404.62,183.71 L405.04,183.91 L405.46,184.12 L405.88,184.34 L406.29,184.55 L406.71,184.77 L407.13,184.98 L407.55,185.20 L407.96,185.42 L408.38,185.65 L408.80,185.87 L409.21,186.10 L409.63,186.33 L410.05,186.57 L410.47,186.81 L410.88,187.04 L411.30,187.29 L411.72,187.53 L412.14,187.78 L412.55,188.03 L412.97,188.29 L413.39,188.54 L413.81,188.80 L414.22,189.07 L414.64,189.34 L415.06,189.61 L415.47,189.88 L415.89,190.16 L416.31,190.44 L416.73,190.73 L417.14,191.02 L417.56,191.32 L417.98,191.62 L418.40,191.92 L418.81,192.23 L419.23,192.54 L419.65,192.85 L420.07,193.17 L420.48,193.49 L420.90,193.81 L421.32,194.14 L421.74,194.48 L422.15,194.81 L422.57,195.15 L422.99,195.48 L423.40,195.82 L423.82,196.17 L424.24,196.51 L424.66,196.86 L425.07,197.21 L425.49,197.56 L425.91,197.91 L426.33,198.26 L426.74,198.62 L427.16,198.97 L427.58,199.32 L428.00,199.68 L428.41,200.04 L428.83,200.39 L429.25,200.75 L429.66,201.10 L430.08,201.46 L430.50,201.81 L430.92,202.17 L431.33,202.52 L431.75,202.87 L432.17,203.22 L432.59,203.57 L433.00,203.92 L433.42,204.27 L433.84,204.61 L434.26,204.95 L434.67,205.29 L435.09,205.63 L435.51,205.97 L435.92,206.30 L436.34,206.63 L436.76,206.96 L437.18,207.28 L437.59,207.60 L438.01,207.92 L438.43,208.23 L438.85,208.55 L439.26,208.85 L439.68,209.15 L440.10,209.45 L440.52,209.74 L440.93,210.03 L441.35,210.31 L441.77,210.59 L442.18,210.87 L442.60,211.14 L443.02,211.40 L443.44,211.66 L443.85,211.91 L444.27,212.15 L444.69,212.39 L445.11,212.62 L445.52,212.85 L445.94,213.07 L446.36,213.29 L446.78,213.50 L447.19,213.69 L447.61,213.88 L448.03,214.06 L448.44,214.24 L448.86,214.41 L449.28,214.58 L449.70,214.74 L450.11,214.89 L450.53,215.02 L450.95,215.14 L451.37,215.25 L451.78,215.37 L452.20,215.48 L452.62,215.58 L453.04,215.68 L453.45,215.76 L453.87,215.82 L454.29,215.85 L454.71,215.86 L455.12,215.87 L455.54,215.87 L455.96,215.88 L456.37,215.88 L456.79,215.88 L457.21,215.89 L457.63,215.89 L458.04,215.89 L458.46,215.87 L458.88,215.83 L459.30,215.77 L459.71,215.69 L460.13,215.60 L460.55,215.51 L460.97,215.41 L461.38,215.31 L461.80,215.22 L462.22,215.11 L462.63,214.98 L463.05,214.85 L463.47,214.71 L463.89,214.56 L464.30,214.41 L464.72,214.26 L465.14,214.10 L465.56,213.93 L465.97,213.76 L466.39,213.58 L466.81,213.39 L467.23,213.19 L467.64,212.99 L468.06,212.79 L468.48,212.58 L468.89,212.37 L469.31,212.15 L469.73,211.93 L470.15,211.70 L470.56,211.46 L470.98,211.22 L471.40,210.98 L471.82,210.73 L472.23,210.49 L472.65,210.23 L473.07,209.98 L473.49,209.71 L473.90,209.45 L474.32,209.18 L474.74,208.91 L475.15,208.64 L475.57,208.36 L475.99,208.08 L476.41,207.80 L476.82,207.52 L477.24,207.23 L477.66,206.94 L478.08,206.65 L478.49,206.36 L478.91,206.07 L479.33,205.78 L479.75,205.48 L480.16,205.18 L480.58,204.88 L481.00,204.58 L481.42,204.28 L481.83,203.99 L482.25,203.69 L482.67,203.39 L483.08,203.09 L483.50,202.79 L483.92,202.49 L484.34,202.18 L484.75,201.88 L485.17,201.59 L485.59,201.29 L486.01,200.99 L486.42,200.70 L486.84,200.40 L487.26,200.11 L487.68,199.82 L488.09,199.53 L488.51,199.24 L488.93,198.95 L489.34,198.67 L489.76,198.39 L490.18,198.11 L490.60,197.83 L491.01,197.56 L491.43,197.29 L491.85,197.02 L492.27,196.75 L492.68,196.48 L493.10,196.22 L493.52,195.96 L493.94,195.70 L494.35,195.44 L494.77,195.19 L495.19,194.93 L495.60,194.68 L496.02,194.43 L496.44,194.18 L496.86,193.94 L497.27,193.70 L497.69,193.45 L498.11,193.21 L498.53,192.98 L498.94,192.74 L499.36,192.51 L499.78,192.27 L500.20,192.04 L500.61,191.82 L501.03,191.59 L501.45,191.36 L501.86,191.14 L502.28,190.92 L502.70,190.70 L503.12,190.48 L503.53,190.26 L503.95,190.04 L504.37,189.83 L504.79,189.62 L505.20,189.41 L505.62,189.20 L506.04,188.99 L506.46,188.78 L506.87,188.58 L507.29,188.37 L507.71,188.17 L508.12,187.97 L508.54,187.77 L508.96,187.57 L509.38,187.37 L509.79,187.18 L510.21,186.98 L510.63,186.79 L511.05,186.60 L511.46,186.40 L511.88,186.21 L512.30,186.02 L512.72,185.84 L513.13,185.65 L513.55,185.46 L513.97,185.28 L514.39,185.09 L514.80,184.91 L515.22,184.73 L515.64,184.55 L516.05,184.37 L516.47,184.19 L516.89,184.01 L517.31,183.83 L517.72,183.66 L518.14,183.48 L518.56,183.31 L518.98,183.13 L519.39,182.96 L519.81,182.79 L520.23,182.61 L520.65,182.44 L521.06,182.27 L521.48,182.10 L521.90,181.93 L522.31,181.76 L522.73,181.59 L523.15,181.42 L523.57,181.25 L523.98,181.09 L524.40,180.93 L524.82,180.76 L525.24,180.60" stroke="#ff0000" stroke-dasharray="9 3"/>
<path d="M316.98,147.69 L317.40,147.84 L317.82,147.99 L318.23,148.14 L318.65,148.29 L319.07,148.45 L319.49,148.60 L319.90,148.75 L320.32,148.90 L320.74,149.06 L321.16,149.21 L321.57,149.36 L321.99,149.52 L322.41,149.67 L322.82,149.83 L323.24,149.99 L323.66,150.14 L324.08,150.30 L324.49,150.46 L324.91,150.62 L325.33,150.77 L325.75,150.93 L326.16,151.09 L326.58,151.25 L327.00,151.41 L327.42,151.57 L327.83,151.73 L328.25,151.89 L328.67,152.06 L329.08,152.22 L329.50,152.38 L329.92,152.54 L330.34,152.71 L330.75,152.87 L331.17,153.03 L331.59,153.20 L332.01,153.36 L332.42,153.53 L332.84,153.69 L333.26,153.86 L333.68,154.02 L334.09,154.19 L334.51,154.35 L334.93,154.52 L335.35,154.69 L335.76,154.85 L336.18,155.02 L336.60,155.19 L337.01,155.36 L337.43,155.52 L337.85,155.69 L338.27,155.86 L338.68,156.03 L339.10,156.20 L339.52,156.37 L339.94,156.54 L340.35,156.71 L340.77,156.88 L341.19,157.05 L341.61,157.22 L342.02,157.39 L342.44,157.56 L342.86,157.73 L343.27,157.90 L343.69,158.07 L344.11,158.24 L344.53,158.41 L344.94,158.58 L345.36,158.76 L345.78,158.93 L346.20,159.10 L346.61,159.27 L347.03,159.44 L347.45,159.62 L347.87,159.79 L348.28,159.96 L348.70,160.13 L349.12,160.30 L349.53,160.48 L349.95,160.65 L350.37,160.82 L350.79,160.99 L351.20,161.17 L351.62,161.34 L352.04,161.51 L352.46,161.69 L352.87,161.86 L353.29,162.03 L353.71,162.20 L354.13,162.38 L354.54,162.55 L354.96,162.72 L355.38,162.90 L355.79,163.07 L356.21,163.24 L356.63,163.41 L357.05,163.59 L357.46,163.76 L357.88,163.93 L358.30,164.11 L358.72,164.28 L359.13,164.45 L359.55,164.62 L359.97,164.79 L360.39,164.97 L360.80,165.14 L361.22,165.31 L361.64,165.48 L362.06,165.65 L362.47,165.83 L362.89,166.00 L363.31,166.17 L363.72,166.34 L364.14,166.51 L364.56,166.68 L364.98,166.85 L365.39,167.02 L365.81,167.19 L366.23,167.36 L366.65,167.53 L367.06,167.70 L367.48,167.87 L367.90,168.04 L368.32,168.21 L368.73,168.38 L369.15,168.55 L369.57,168.72 L369.98,168.89 L370.40,169.05 L370.82,169.22 L371.24,169.39 L371.65,169.56 L372.07,169.72 L372.49,169.89 L372.91,170.06 L373.32,170.22 L373.74,170.39 L374.16,170.56 L374.58,170.72 L374.99,170.89 L375.41,171.05 L375.83,171.22 L376.24,171.38 L376.66,171.54 L377.08,171.71 L377.50,171.87 L377.91,172.04 L378.33,172.20 L378.75,172.36 L379.17,172.53 L379.58,172.69 L380.00,172.85 L380.42,173.02 L380.84,173.18 L381.25,173.34 L381.67,173.51 L382.09,173.67 L382.50,173.84 L382.92,174.00 L383.34,174.17 L383.76,174.33 L384.17,174.50 L384.59,174.66 L385.01,174.83 L385.43,175.00 L385.84,175.16 L386.26,175.33 L386.68,175.50 L387.10,175.67 L387.51,175.84 L387.93,176.01 L388.35,176.18 L388.76,176.35 L389.18,176.53 L389.60,176.70 L390.02,176.87 L390.43,177.05 L390.85,177.23 L391.27,177.40 L391.69,177.58 L392.10,177.76 L392.52,177.94 L392.94,178.12 L393.36,178.30 L393.77,178.49 L394.19,178.67 L394.61,178.86 L395.03,179.04 L395.44,179.23 L395.86,179.42 L396.28,179.61 L396.69,179.80 L397.11,180.00 L397.53,180.19 L397.95,180.39 L398.36,180.59 L398.78,180.79 L399.20,180.99 L399.62,181.19 L400.03,181.39 L400.45,181.60 L400.87,181.81 L401.29,182.02 L401.70,182.23 L402.12,182.44 L402.54,182.65 L402.95,182.87 L403.37,183.09 L403.79,183.31 L404.21,183.53 L404.62,183.76 L405.04,183.98 L405.46,184.21 L405.88,184.44 L406.29,184.67 L406.71,184.91 L407.13,185.14 L407.55,185.38 L407.96,185.62 L408.38,185.87 L408.80,186.11 L409.21,186.36 L409.63,186.61 L410.05,186.86 L410.47,187.12 L410.88,187.38 L411.30,187.64 L411.72,187.90 L412.14,188.16 L412.55,188.43 L412.97,188.70 L413.39,188.97 L413.81,189.25 L414.22,189.53 L414.64,189.81 L415.06,190.09 L415.47,190.38 L415.89,190.67 L416.31,190.96 L416.73,191.26 L417.14,191.56 L417.56,191.86 L417.98,192.16 L418.40,192.47 L418.81,192.78 L419.23,193.10 L419.65,193.41 L420.07,193.73 L420.48,194.05 L420.90,194.38 L421.32,194.70 L421.74,195.03 L422.15,195.37 L422.57,195.70 L422.99,196.04 L423.40,196.37 L423.82,196.71 L424.24,197.06 L424.66,197.40 L425.07,197.75 L425.49,198.10 L425.91,198.45 L426.33,198.80 L426.74,199.15 L427.16,199.51 L427.58,199.86 L428.00,200.22 L428.41,200.58 L428.83,200.94 L429.25,201.30 L429.66,201.66 L430.08,202.03 L430.50,202.39 L430.92,202.75 L431.33,203.12 L431.75,203.49 L432.17,203.85 L432.59,204.22 L433.00,204.59 L433.42,204.96 L433.84,205.33 L434.26,205.69 L434.67,206.06 L435.09,206.43 L435.51,206.80 L435.92,207.17 L436.34,207.54 L436.76,207.91 L437.18,208.28 L437.59,208.65 L438.01,209.02 L438.43,209.38 L438.85,209.75 L439.26,210.12 L439.68,210.48 L440.10,210.85 L440.52,211.21 L440.93,211.57 L441.35,211.94 L441.77,212.30 L442.18,212.66 L442.60,213.02 L443.02,213.37 L443.44,213.73 L443.85,214.08 L444.27,214.44 L444.69,214.79 L445.11,215.14 L445.52,215.49 L445.94,215.84 L446.36,216.18 L446.78,216.52 L447.19,216.86 L447.61,217.19 L448.03,217.53 L448.44,217.86 L448.86,218.19 L449.28,218.52 L449.70,218.84 L450.11,219.15 L450.53,219.46 L450.95,219.76 L451.37,220.05 L451.78,220.34 L452.20,220.62 L452.62,220.90 L453.04,221.17 L453.45,221.43 L453.87,221.68 L454.29,221.91 L454.71,222.13 L455.12,222.34 L455.54,222.55 L455.96,222.76 L456.37,222.96 L456.79,223.13 L457.21,223.29 L457.63,223.42 L458.04,223.53 L458.46,223.62 L458.88,223.70 L459.30,223.79 L459.71,223.86 L460.13,223.92 L460.55,223.97 L460.97,224.00 L461.38,224.02 L461.80,224.01 L462.22,223.98 L462.63,223.93 L463.05,223.86 L463.47,223.78 L463.89,223.69 L464.30,223.59 L464.72,223.49 L465.14,223.39 L465.56,223.26 L465.97,223.11 L466.39,222.94 L466.81,222.75 L467.23,222.55 L467.64,222.34 L468.06,222.13 L468.48,221.92 L468.89,221.69 L469.31,221.46 L469.73,221.20 L470.15,220.94 L470.56,220.67 L470.98,220.39 L471.40,220.10 L471.82,219.81 L472.23,219.52 L472.65,219.22 L473.07,218.90 L473.49,218.58 L473.90,218.26 L474.32,217.93 L474.74,217.59 L475.15,217.25 L475.57,216.91 L475.99,216.57 L476.41,216.22 L476.82,215.87 L477.24,215.51 L477.66,215.15 L478.08,214.78 L478.49,214.42 L478.91,214.06 L479.33,213.70 L479.75,213.33 L480.16,212.97 L480.58,212.60 L481.00,212.23 L481.42,211.86 L481.83,211.49 L482.25,211.13 L482.67,210.76 L483.08,210.39 L483.50,210.03 L483.92,209.66 L484.34,209.29 L484.75,208.93 L485.17,208.56 L485.59,208.20 L486.01,207.84 L486.42,207.48 L486.84,207.12 L487.26,206.77 L487.68,206.41 L488.09,206.06 L488.51,205.70 L488.93,205.36 L489.34,205.01 L489.76,204.67 L490.18,204.33 L490.60,203.99 L491.01,203.65 L491.43,203.32 L491.85,202.99 L492.27,202.66 L492.68,202.34 L493.10,202.02 L493.52,201.70 L493.94,201.39 L494.35,201.08 L494.77,200.78 L495.19,200.48 L495.60,200.18 L496.02,199.88 L496.44,199.59 L496.86,199.31 L497.27,199.02 L497.69,198.74 L498.11,198.47 L498.53,198.19 L498.94,197.92 L499.36,197.66 L499.78,197.39 L500.20,197.13 L500.61,196.87 L501.03,196.62 L501.45,196.36 L501.86,196.11 L502.28,195.87 L502.70,195.62 L503.12,195.38 L503.53,195.13 L503.95,194.89 L504.37,194.66 L504.79,194.42 L505.20,194.19 L505.62,193.96 L506.04,193.73 L506.46,193.50 L506.87,193.28 L507.29,193.05 L507.71,192.83 L508.12,192.61 L508.54,192.39 L508.96,192.17 L509.38,191.95 L509.79,191.74 L510.21,191.52 L510.63,191.31 L511.05,191.09 L511.46,190.88 L511.88,190.67 L512.30,190.46 L512.72,190.25 L513.13,190.04 L513.55,189.83 L513.97,189.61 L514.39,189.41 L514.80,189.20 L515.22,188.99 L515.64,188.78 L516.05,188.57 L516.47,188.36 L516.89,188.15 L517.31,187.94 L517.72,187.73 L518.14,187.52 L518.56,187.31 L518.98,187.10 L519.39,186.89 L519.81,186.68 L520.23,186.46 L520.65,186.25 L521.06,186.03 L521.48,185.81 L521.90,185.58 L522.31,185.35 L522.73,185.13 L523.15,184.90 L523.57,184.69 L523.98,184.48 L524.40,184.28 L524.82,184.08 L525.24,183.88" stroke="#00a000" stroke-dasharray="9 3 4.5 3"/>
<path d="M316.98,150.39 L317.40,150.55 L317.82,150.71 L318.23,150.88 L318.65,151.04 L319.07,151.20 L319.49,151.36 L319.90,151.52 L320.32,151.68 L320.74,151.84 L321.16,152.00 L321.57,152.16 L321.99,152.32 L322.41,152.48 L322.82,152.63 L323.24,152.79 L323.66,152.95 L324.08,153.10 L324.49,153.26 L324.91,153.41 L325.33,153.56 L325.75,153.72 L326.16,153.87 L326.58,154.03 L327.00,154.18 L327.42,154.33 L327.83,154.48 L328.25,154.63 L328.67,154.79 L329.08,154.94 L329.50,155.09 L329.92,155.24 L330.34,155.39 L330.75,155.54 L331.17,155.69 L331.59,155.84 L332.01,155.98 L332.42,156.13 L332.84,156.28 L333.26,156.43 L333.68,156.58 L334.09,156.73 L334.51,156.87 L334.93,157.02 L335.35,157.17 L335.76,157.32 L336.18,157.46 L336.60,157.61 L337.01,157.76 L337.43,157.90 L337.85,158.05 L338.27,158.20 L338.68,158.34 L339.10,158.49 L339.52,158.64 L339.94,158.78 L340.35,158.93 L340.77,159.08 L341.19,159.22 L341.61,159.37 L342.02,159.52 L342.44,159.66 L342.86,159.81 L343.27,159.96 L343.69,160.10 L344.11,160.25 L344.53,160.40 L344.94,160.54 L345.36,160.69 L345.78,160.84 L346.20,160.99 L346.61,161.13 L347.03,161.28 L347.45,161.43 L347.87,161.58 L348.28,161.73 L348.70,161.87 L349.12,162.02 L349.53,162.17 L349.95,162.32 L350.37,162.47 L350.79,162.62 L351.20,162.77 L351.62,162.92 L352.04,163.07 L352.46,163.22 L352.87,163.37 L353.29,163.52 L353.71,163.68 L354.13,163.83 L354.54,163.98 L354.96,164.13 L355.38,164.29 L355.79,164.44 L356.21,164.59 L356.63,164.75 L357.05,164.90 L357.46,165.06 L357.88,165.22 L358.30,165.37 L358.72,165.53 L359.13,165.69 L359.55,165.84 L359.97,166.00 L360.39,166.16 L360.80,166.32 L361.22,166.48 L361.64,166.64 L362.06,166.80 L362.47,166.96 L362.89,167.13 L363.31,167.29 L363.72,167.45 L364.14,167.62 L364.56,167.78 L364.98,167.95 L365.39,168.11 L365.81,168.28 L366.23,168.45 L366.65,168.62 L367.06,168.78 L367.48,168.95 L367.90,169.12 L368.32,169.30 L368.73,169.47 L369.15,169.64 L369.57,169.81 L369.98,169.99 L370.40,170.16 L370.82,170.34 L371.24,170.51 L371.65,170.69 L372.07,170.87 L372.49,171.05 L372.91,171.23 L373.32,171.41 L373.74,171.59 L374.16,171.77 L374.58,171.96 L374.99,172.14 L375.41,172.33 L375.83,172.51 L376.24,172.70 L376.66,172.89 L377.08,173.08 L377.50,173.27 L377.91,173.46 L378.33,173.65 L378.75,173.85 L379.17,174.04 L379.58,174.24 L380.00,174.43 L380.42,174.63 L380.84,174.83 L381.25,175.03 L381.67,175.23 L382.09,175.43 L382.50,175.63 L382.92,175.84 L383.34,176.04 L383.76,176.25 L384.17,176.46 L384.59,176.67 L385.01,176.88 L385.43,177.09 L385.84,177.30 L386.26,177.51 L386.68,177.73 L387.10,177.94 L387.51,178.16 L387.93,178.38 L388.35,178.60 L388.76,178.82 L389.18,179.04 L389.60,179.27 L390.02,179.49 L390.43,179.72 L390.85,179.95 L391.27,180.18 L391.69,180.41 L392.10,180.64 L392.52,180.87 L392.94,181.11 L393.36,181.34 L393.77,181.58 L394.19,181.82 L394.61,182.06 L395.03,182.30 L395.44,182.55 L395.86,182.79 L396.28,183.04 L396.69,183.29 L397.11,183.54 L397.53,183.79 L397.95,184.04 L398.36,184.30 L398.78,184.55 L399.20,184.81 L399.62,185.07 L400.03,185.33 L400.45,185.59 L400.87,185.85 L401.29,186.12 L401.70,186.39 L402.12,186.66 L402.54,186.93 L402.95,187.20 L403.37,187.47 L403.79,187.75 L404.21,188.03 L404.62,188.30 L405.04,188.59 L405.46,188.87 L405.88,189.15 L406.29,189.44 L406.71,189.73 L407.13,190.02 L407.55,190.31 L407.96,190.60 L408.38,190.90 L408.80,191.19 L409.21,191.49 L409.63,191.79 L410.05,192.09 L410.47,192.40 L410.88,192.70 L411.30,193.01 L411.72,193.32 L412.14,193.64 L412.55,193.95 L412.97,194.27 L413.39,194.58 L413.81,194.90 L414.22,195.22 L414.64,195.55 L415.06,195.87 L415.47,196.20 L415.89,196.53 L416.31,196.86 L416.73,197.20 L417.14,197.53 L417.56,197.87 L417.98,198.21 L418.40,198.56 L418.81,198.90 L419.23,199.25 L419.65,199.60 L420.07,199.95 L420.48,200.30 L420.90,200.66 L421.32,201.01 L421.74,201.37 L422.15,201.74 L422.57,202.10 L422.99,202.47 L423.40,202.84 L423.82,203.21 L424.24,203.59 L424.66,203.97 L425.07,204.35 L425.49,204.74 L425.91,205.13 L426.33,205.52 L426.74,205.91 L427.16,206.31 L427.58,206.71 L428.00,207.12 L428.41,207.53 L428.83,207.94 L429.25,208.36 L429.66,208.78 L430.08,209.20 L430.50,209.63 L430.92,210.07 L431.33,210.50 L431.75,210.94 L432.17,211.39 L432.59,211.84 L433.00,212.29 L433.42,212.75 L433.84,213.21 L434.26,213.68 L434.67,214.15 L435.09,214.63 L435.51,215.11 L435.92,215.60 L436.34,216.09 L436.76,216.59 L437.18,217.09 L437.59,217.60 L438.01,218.11 L438.43,218.64 L438.85,219.16 L439.26,219.69 L439.68,220.23 L440.10,220.76 L440.52,221.31 L440.93,221.85 L441.35,222.42 L441.77,222.98 L442.18,223.56 L442.60,224.13 L443.02,224.70 L443.44,225.26 L443.85,225.80 L444.27,226.34 L444.69,226.87 L445.11,227.42 L445.52,227.95 L445.94,228.48 L446.36,228.98 L446.78,229.46 L447.19,229.90 L447.61,230.31 L448.03,230.71 L448.44,231.11 L448.86,231.51 L449.28,231.88 L449.70,232.22 L450.11,232.51 L450.53,232.74 L450.95,232.89 L451.37,232.98 L451.78,233.06 L452.20,233.13 L452.62,233.20 L453.04,233.25 L453.45,233.30 L453.87,233.33 L454.29,233.34 L454.71,233.34 L455.12,233.26 L455.54,233.13 L455.96,232.94 L456.37,232.71 L456.79,232.46 L457.21,232.18 L457.63,231.91 L458.04,231.64 L458.46,231.35 L458.88,231.02 L459.30,230.66 L459.71,230.28 L460.13,229.87 L460.55,229.45 L460.97,229.02 L461.38,228.60 L461.80,228.16 L462.22,227.71 L462.63,227.24 L463.05,226.75 L463.47,226.25 L463.89,225.75 L464.30,225.25 L464.72,224.74 L465.14,224.24 L465.56,223.73 L465.97,223.22 L466.39,222.70 L466.81,222.18 L467.23,221.66 L467.64,221.15 L468.06,220.63 L468.48,220.13 L468.89,219.62 L469.31,219.12 L469.73,218.62 L470.15,218.12 L470.56,217.62 L470.98,217.13 L471.40,216.64 L471.82,216.15 L472.23,215.67 L472.65,215.19 L473.07,214.71 L473.49,214.24 L473.90,213.77 L474.32,213.30 L474.74,212.84 L475.15,212.38 L475.57,211.92 L475.99,211.47 L476.41,211.02 L476.82,210.58 L477.24,210.13 L477.66,209.70 L478.08,209.26 L478.49,208.84 L478.91,208.41 L479.33,207.99 L479.75,207.58 L480.16,207.17 L480.58,206.76 L481.00,206.36 L481.42,205.96 L481.83,205.57 L482.25,205.19 L482.67,204.80 L483.08,204.43 L483.50,204.06 L483.92,203.69 L484.34,203.32 L484.75,202.97 L485.17,202.61 L485.59,202.26 L486.01,201.92 L486.42,201.58 L486.84,201.24 L487.26,200.91 L487.68,200.58 L488.09,200.25 L488.51,199.93 L488.93,199.62 L489.34,199.30 L489.76,198.99 L490.18,198.69 L490.60,198.39 L491.01,198.09 L491.43,197.80 L491.85,197.50 L492.27,197.22 L492.68,196.93 L493.10,196.65 L493.52,196.37 L493.94,196.10 L494.35,195.83 L494.77,195.56 L495.19,195.30 L495.60,195.03 L496.02,194.78 L496.44,194.52 L496.86,194.26 L497.27,194.01 L497.69,193.77 L498.11,193.52 L498.53,193.28 L498.94,193.04 L499.36,192.80 L499.78,192.56 L500.20,192.33 L500.61,192.10 L501.03,191.87 L501.45,191.64 L501.86,191.42 L502.28,191.19 L502.70,190.97 L503.12,190.75 L503.53,190.53 L503.95,190.32 L504.37,190.10 L504.79,189.89 L505.20,189.68 L505.62,189.47 L506.04,189.26 L506.46,189.06 L506.87,188.85 L507.29,188.65 L507.71,188.44 L508.12,188.24 L508.54,188.04 L508.96,187.84 L509.38,187.64 L509.79,187.44 L510.21,187.25 L510.63,187.05 L511.05,186.85 L511.46,186.66 L511.88,186.46 L512.30,186.27 L512.72,186.08 L513.13,185.88 L513.55,185.69 L513.97,185.50 L514.39,185.30 L514.80,185.11 L515.22,184.92 L515.64,184.73 L516.05,184.54 L516.47,184.34 L516.89,184.15 L517.31,183.96 L517.72,183.77 L518.14,183.57 L518.56,183.38 L518.98,183.19 L519.39,182.99 L519.81,182.80 L520.23,182.60 L520.65,182.40 L521.06,182.20 L521.48,182.00 L521.90,181.79 L522.31,181.59 L522.73,181.38 L523.15,181.18 L523.57,180.98 L523.98,180.79 L524.40,180.60 L524.82,180.42 L525.24,180.24" stroke="#000" stroke-dasharray="4 3.6"/>
</g>
<text x="284.38" y="126.40" font-size="14.8" font-weight="bold" style="font-kerning:none">−2.0</text>
<text x="284.38" y="144.45" font-size="14.8" font-weight="bold" style="font-kerning:none">−2.5</text>
<text x="284.38" y="162.50" font-size="14.8" font-weight="bold" style="font-kerning:none">−3.0</text>
<text x="284.38" y="180.55" font-size="14.8" font-weight="bold" style="font-kerning:none">−3.5</text>
<text x="284.38" y="198.60" font-size="14.8" font-weight="bold" style="font-kerning:none">−4.0</text>
<text x="284.38" y="216.65" font-size="14.8" font-weight="bold" style="font-kerning:none">−4.5</text>
<text x="284.38" y="234.70" font-size="14.8" font-weight="bold" style="font-kerning:none">−5.0</text>
<text x="284.38" y="252.75" font-size="14.8" font-weight="bold" style="font-kerning:none">−5.5</text>
<text x="311.78" y="265.80" font-size="14.8" font-weight="bold" style="font-kerning:none"> 7.80</text><path transform="translate(311.78,265.80) scale(0.007227,-0.007227)" d="M518,0V1170L140,959V1180L533,1409H799V0Z"/>
<text x="368.68" y="265.80" font-size="14.8" font-weight="bold" style="font-kerning:none"> 7.85</text><path transform="translate(368.68,265.80) scale(0.007227,-0.007227)" d="M518,0V1170L140,959V1180L533,1409H799V0Z"/>
<text x="425.58" y="265.80" font-size="14.8" font-weight="bold" style="font-kerning:none"> 7.90</text><path transform="translate(425.58,265.80) scale(0.007227,-0.007227)" d="M518,0V1170L140,959V1180L533,1409H799V0Z"/>
<text x="482.48" y="265.80" font-size="14.8" font-weight="bold" style="font-kerning:none"> 7.95</text><path transform="translate(482.48,265.80) scale(0.007227,-0.007227)" d="M518,0V1170L140,959V1180L533,1409H799V0Z"/>
</svg></body></html>
